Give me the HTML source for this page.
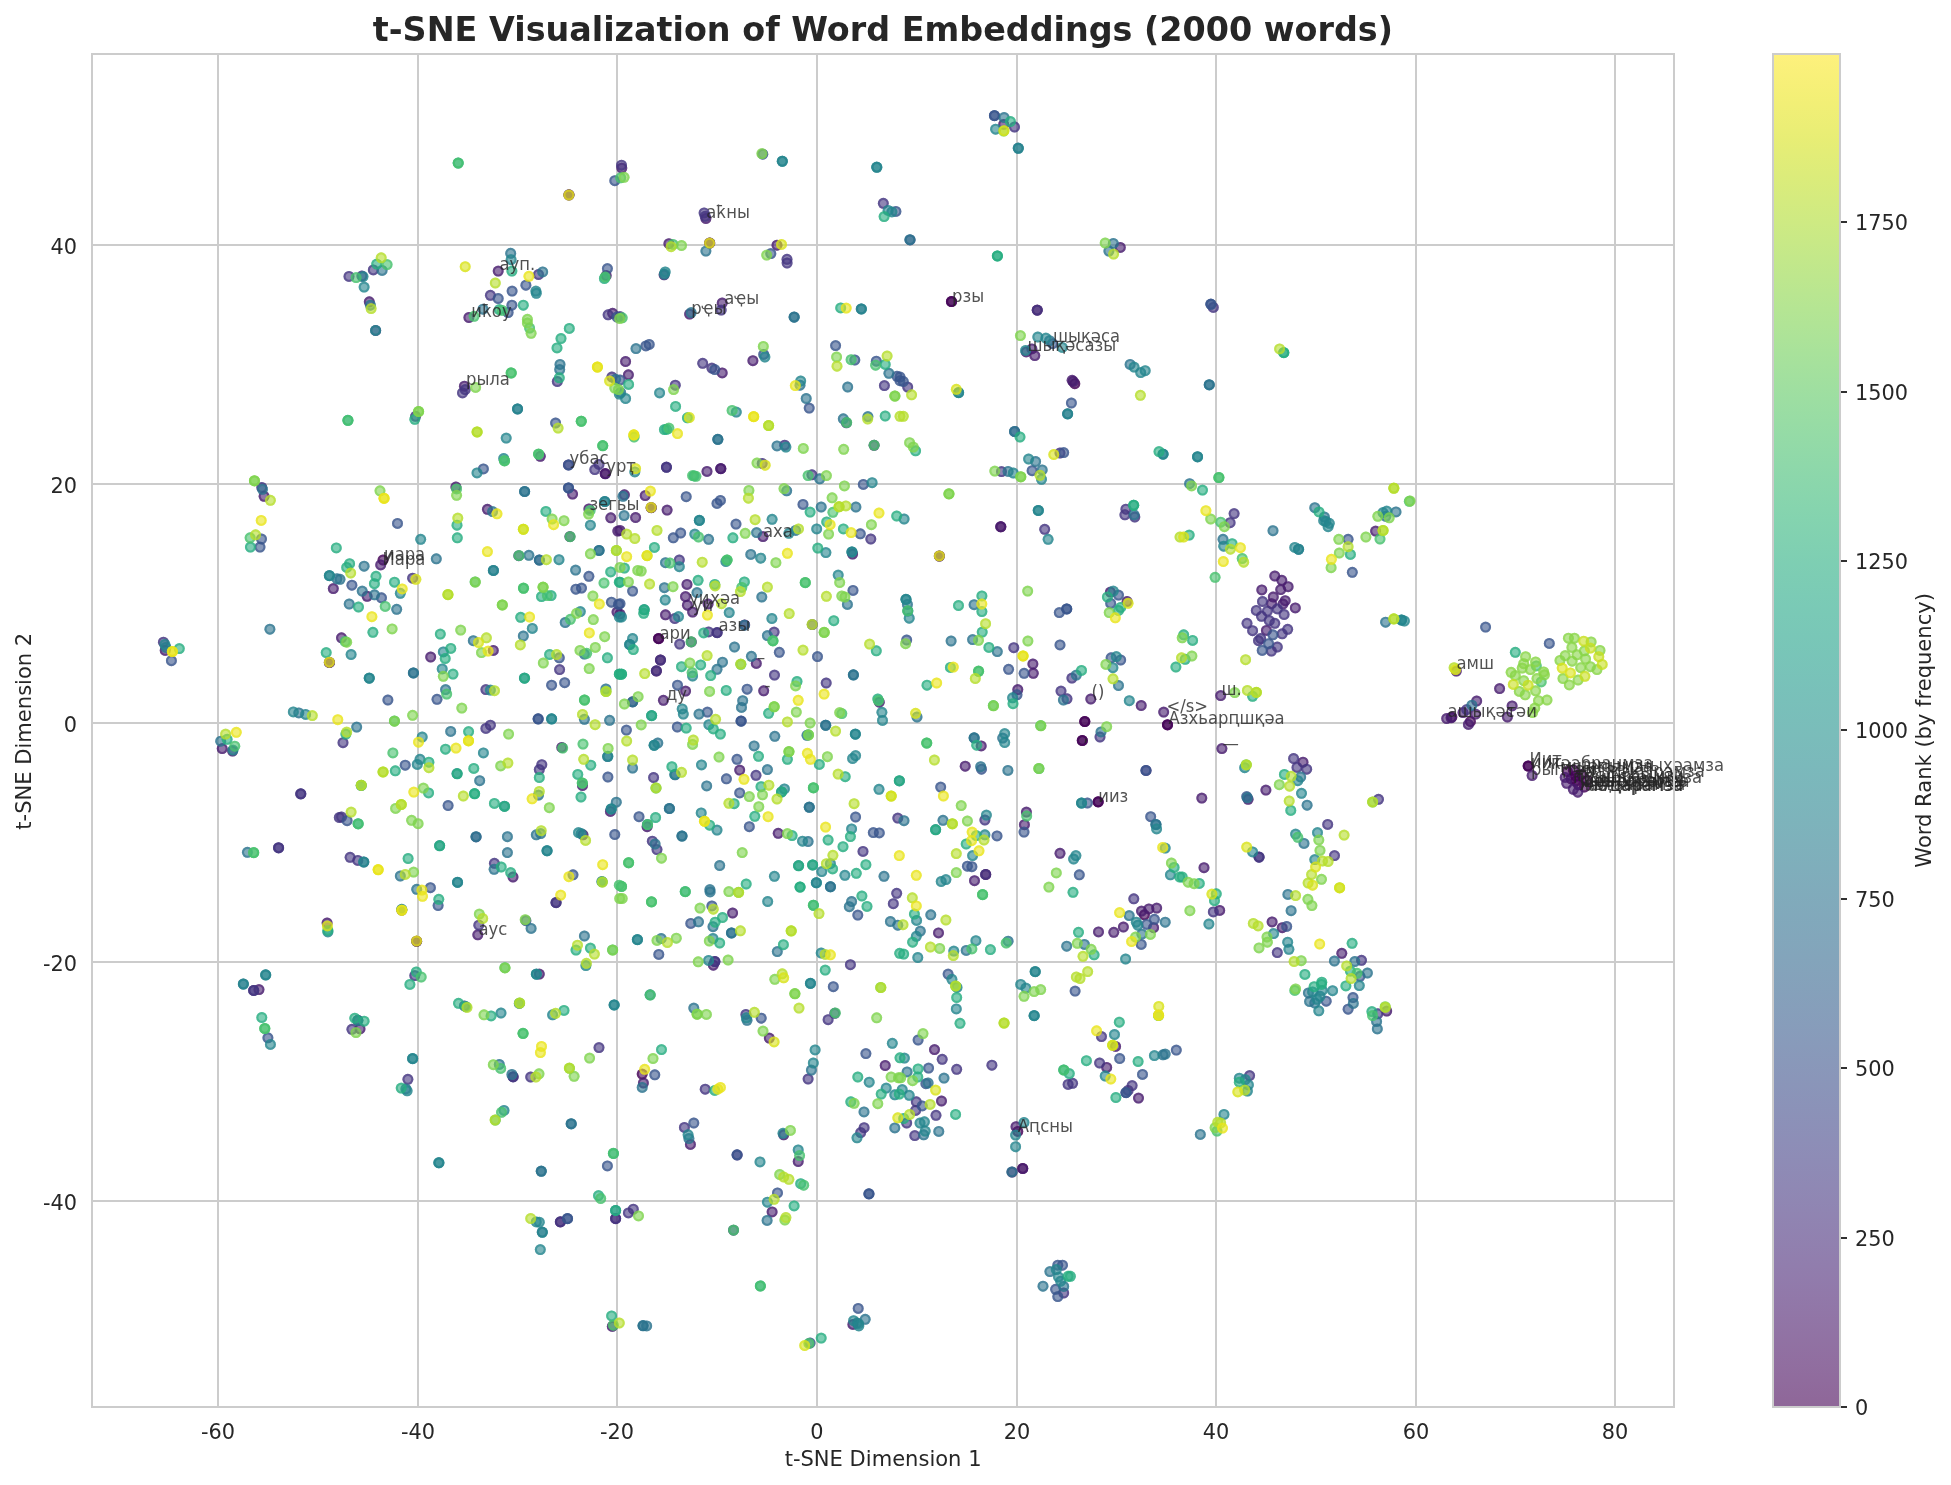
<!DOCTYPE html>
<html><head><meta charset="utf-8"><title>t-SNE Visualization of Word Embeddings</title>
<style>html,body{margin:0;padding:0;background:#fff}svg{display:block;will-change:transform}text{font-family:"DejaVu Sans","Liberation Sans",sans-serif;fill:#262626}</style></head><body>
<svg width="1951" height="1485" viewBox="0 0 1951 1485">
<defs><linearGradient id="vg" x1="0" y1="1" x2="0" y2="0"><stop offset="0.0000" stop-color="#440154"/><stop offset="0.0312" stop-color="#470d60"/><stop offset="0.0625" stop-color="#48186a"/><stop offset="0.0938" stop-color="#482374"/><stop offset="0.1250" stop-color="#472d7b"/><stop offset="0.1562" stop-color="#453781"/><stop offset="0.1875" stop-color="#424086"/><stop offset="0.2188" stop-color="#3e4989"/><stop offset="0.2500" stop-color="#3b528b"/><stop offset="0.2812" stop-color="#375b8d"/><stop offset="0.3125" stop-color="#33638d"/><stop offset="0.3438" stop-color="#2f6b8e"/><stop offset="0.3750" stop-color="#2c728e"/><stop offset="0.4062" stop-color="#297a8e"/><stop offset="0.4375" stop-color="#26828e"/><stop offset="0.4688" stop-color="#23898e"/><stop offset="0.5000" stop-color="#21918c"/><stop offset="0.5312" stop-color="#1f988b"/><stop offset="0.5625" stop-color="#1fa088"/><stop offset="0.5938" stop-color="#22a785"/><stop offset="0.6250" stop-color="#28ae80"/><stop offset="0.6562" stop-color="#32b67a"/><stop offset="0.6875" stop-color="#3fbc73"/><stop offset="0.7188" stop-color="#4ec36b"/><stop offset="0.7500" stop-color="#5ec962"/><stop offset="0.7812" stop-color="#70cf57"/><stop offset="0.8125" stop-color="#84d44b"/><stop offset="0.8438" stop-color="#98d83e"/><stop offset="0.8750" stop-color="#addc30"/><stop offset="0.9062" stop-color="#c2df23"/><stop offset="0.9375" stop-color="#d8e219"/><stop offset="0.9688" stop-color="#ece51b"/><stop offset="1.0000" stop-color="#fde725"/></linearGradient></defs>
<rect width="1951" height="1485" fill="#fff"/>
<g stroke="#cccccc" stroke-width="2" fill="none"><line x1="218.0" y1="54.0" x2="218.0" y2="1407.0"/><line x1="418.0" y1="54.0" x2="418.0" y2="1407.0"/><line x1="617.0" y1="54.0" x2="617.0" y2="1407.0"/><line x1="817.0" y1="54.0" x2="817.0" y2="1407.0"/><line x1="1017.0" y1="54.0" x2="1017.0" y2="1407.0"/><line x1="1216.0" y1="54.0" x2="1216.0" y2="1407.0"/><line x1="1416.0" y1="54.0" x2="1416.0" y2="1407.0"/><line x1="1615.0" y1="54.0" x2="1615.0" y2="1407.0"/><line x1="92.0" y1="1201.0" x2="1674.0" y2="1201.0"/><line x1="92.0" y1="962.0" x2="1674.0" y2="962.0"/><line x1="92.0" y1="723.0" x2="1674.0" y2="723.0"/><line x1="92.0" y1="484.0" x2="1674.0" y2="484.0"/><line x1="92.0" y1="245.0" x2="1674.0" y2="245.0"/></g>
<defs><g id="m"><circle r="5.5" fill="currentColor" fill-opacity=".6"/><circle r="4.42" fill="none" stroke="currentColor" stroke-width="2.1" stroke-opacity=".6"/></g></defs>
<g>
<use href="#m" x="605.2" y="473.6" color="#450457"/><use href="#m" x="383.0" y="560.0" color="#450457"/><use href="#m" x="658.5" y="638.5" color="#450457"/><use href="#m" x="658.7" y="638.7" color="#450457"/><use href="#m" x="660.4" y="660.0" color="#450457"/><use href="#m" x="656.4" y="671.0" color="#450457"/><use href="#m" x="642.2" y="1074.1" color="#450457"/><use href="#m" x="951.4" y="301.5" color="#450457"/><use href="#m" x="951.6" y="301.6" color="#450457"/><use href="#m" x="1037.2" y="310.1" color="#450457"/><use href="#m" x="1074.8" y="383.7" color="#450457"/><use href="#m" x="1000.9" y="526.8" color="#450457"/><use href="#m" x="1167.4" y="724.7" color="#450457"/><use href="#m" x="1167.6" y="724.9" color="#450457"/><use href="#m" x="1084.7" y="721.5" color="#450457"/><use href="#m" x="1084.9" y="721.6" color="#450457"/><use href="#m" x="1082.2" y="740.4" color="#450457"/><use href="#m" x="1082.4" y="740.6" color="#450457"/><use href="#m" x="1098.1" y="801.8" color="#450457"/><use href="#m" x="1098.2" y="801.9" color="#450457"/><use href="#m" x="985.8" y="874.5" color="#450457"/><use href="#m" x="1144.4" y="914.8" color="#450457"/><use href="#m" x="1017.8" y="1131.4" color="#450457"/><use href="#m" x="1022.7" y="1168.4" color="#450457"/><use href="#m" x="1451.9" y="717.0" color="#450457"/><use href="#m" x="1470.4" y="721.5" color="#450457"/><use href="#m" x="1528.1" y="766.0" color="#450457"/><use href="#m" x="1528.3" y="766.1" color="#450457"/><use href="#m" x="1567.4" y="771.5" color="#450457"/><use href="#m" x="1573.3" y="770.0" color="#450457"/><use href="#m" x="1575.6" y="775.9" color="#450457"/><use href="#m" x="1575.6" y="781.1" color="#450457"/><use href="#m" x="1584.4" y="787.0" color="#450457"/><use href="#m" x="1581.5" y="774.4" color="#450457"/><use href="#m" x="1587.4" y="780.4" color="#450457"/><use href="#m" x="1578.5" y="784.8" color="#450457"/><use href="#m" x="1571.1" y="778.9" color="#450457"/><use href="#m" x="264.1" y="496.3" color="#481c6e"/><use href="#m" x="333.3" y="588.6" color="#481c6e"/><use href="#m" x="165.2" y="650.4" color="#481c6e"/><use href="#m" x="329.3" y="662.4" color="#481c6e"/><use href="#m" x="329.5" y="662.5" color="#481c6e"/><use href="#m" x="222.2" y="748.6" color="#481c6e"/><use href="#m" x="232.6" y="751.1" color="#481c6e"/><use href="#m" x="327.1" y="923.0" color="#481c6e"/><use href="#m" x="259.0" y="989.6" color="#481c6e"/><use href="#m" x="369.3" y="301.8" color="#481c6e"/><use href="#m" x="568.9" y="194.8" color="#481c6e"/><use href="#m" x="569.0" y="195.0" color="#481c6e"/><use href="#m" x="498.2" y="271.1" color="#481c6e"/><use href="#m" x="468.9" y="317.5" color="#481c6e"/><use href="#m" x="606.2" y="275.6" color="#481c6e"/><use href="#m" x="612.6" y="313.3" color="#481c6e"/><use href="#m" x="464.4" y="386.2" color="#481c6e"/><use href="#m" x="540.3" y="456.3" color="#481c6e"/><use href="#m" x="605.3" y="473.8" color="#481c6e"/><use href="#m" x="455.9" y="487.0" color="#481c6e"/><use href="#m" x="572.6" y="494.1" color="#481c6e"/><use href="#m" x="588.9" y="508.9" color="#481c6e"/><use href="#m" x="487.4" y="509.3" color="#481c6e"/><use href="#m" x="610.8" y="517.8" color="#481c6e"/><use href="#m" x="617.8" y="531.1" color="#481c6e"/><use href="#m" x="569.9" y="536.6" color="#481c6e"/><use href="#m" x="380.7" y="564.9" color="#481c6e"/><use href="#m" x="367.1" y="596.3" color="#481c6e"/><use href="#m" x="617.0" y="612.1" color="#481c6e"/><use href="#m" x="341.5" y="637.8" color="#481c6e"/><use href="#m" x="493.3" y="650.4" color="#481c6e"/><use href="#m" x="430.7" y="657.0" color="#481c6e"/><use href="#m" x="561.8" y="747.4" color="#481c6e"/><use href="#m" x="582.5" y="785.5" color="#481c6e"/><use href="#m" x="610.4" y="811.4" color="#481c6e"/><use href="#m" x="583.0" y="834.8" color="#481c6e"/><use href="#m" x="513.0" y="877.0" color="#481c6e"/><use href="#m" x="401.8" y="910.1" color="#481c6e"/><use href="#m" x="477.8" y="934.8" color="#481c6e"/><use href="#m" x="416.6" y="941.2" color="#481c6e"/><use href="#m" x="416.7" y="941.3" color="#481c6e"/><use href="#m" x="539.3" y="974.1" color="#481c6e"/><use href="#m" x="357.8" y="1020.3" color="#481c6e"/><use href="#m" x="360.0" y="1028.9" color="#481c6e"/><use href="#m" x="615.6" y="1218.5" color="#481c6e"/><use href="#m" x="560.4" y="1221.9" color="#481c6e"/><use href="#m" x="612.3" y="1326.4" color="#481c6e"/><use href="#m" x="621.8" y="168.1" color="#481c6e"/><use href="#m" x="705.9" y="218.5" color="#481c6e"/><use href="#m" x="668.9" y="243.7" color="#481c6e"/><use href="#m" x="709.6" y="243.0" color="#481c6e"/><use href="#m" x="709.8" y="243.1" color="#481c6e"/><use href="#m" x="777.0" y="245.2" color="#481c6e"/><use href="#m" x="664.1" y="274.8" color="#481c6e"/><use href="#m" x="722.2" y="303.0" color="#481c6e"/><use href="#m" x="689.6" y="314.1" color="#481c6e"/><use href="#m" x="752.9" y="360.7" color="#481c6e"/><use href="#m" x="625.6" y="361.5" color="#481c6e"/><use href="#m" x="628.4" y="374.8" color="#481c6e"/><use href="#m" x="722.2" y="372.9" color="#481c6e"/><use href="#m" x="874.1" y="445.3" color="#481c6e"/><use href="#m" x="707.0" y="471.4" color="#481c6e"/><use href="#m" x="720.7" y="468.6" color="#481c6e"/><use href="#m" x="720.9" y="468.7" color="#481c6e"/><use href="#m" x="624.4" y="494.8" color="#481c6e"/><use href="#m" x="645.2" y="495.6" color="#481c6e"/><use href="#m" x="651.1" y="507.6" color="#481c6e"/><use href="#m" x="651.3" y="507.7" color="#481c6e"/><use href="#m" x="667.1" y="510.1" color="#481c6e"/><use href="#m" x="635.6" y="517.5" color="#481c6e"/><use href="#m" x="620.0" y="530.4" color="#481c6e"/><use href="#m" x="763.0" y="536.6" color="#481c6e"/><use href="#m" x="852.6" y="554.1" color="#481c6e"/><use href="#m" x="687.0" y="584.4" color="#481c6e"/><use href="#m" x="685.5" y="596.6" color="#481c6e"/><use href="#m" x="708.1" y="604.0" color="#481c6e"/><use href="#m" x="687.4" y="605.2" color="#481c6e"/><use href="#m" x="692.6" y="612.1" color="#481c6e"/><use href="#m" x="665.5" y="614.8" color="#481c6e"/><use href="#m" x="620.0" y="614.1" color="#481c6e"/><use href="#m" x="744.7" y="624.9" color="#481c6e"/><use href="#m" x="691.3" y="641.9" color="#481c6e"/><use href="#m" x="756.3" y="663.4" color="#481c6e"/><use href="#m" x="685.6" y="691.1" color="#481c6e"/><use href="#m" x="763.7" y="690.8" color="#481c6e"/><use href="#m" x="663.4" y="700.3" color="#481c6e"/><use href="#m" x="879.3" y="702.2" color="#481c6e"/><use href="#m" x="739.7" y="770.1" color="#481c6e"/><use href="#m" x="647.1" y="826.7" color="#481c6e"/><use href="#m" x="778.2" y="833.3" color="#481c6e"/><use href="#m" x="732.6" y="913.0" color="#481c6e"/><use href="#m" x="713.3" y="965.2" color="#481c6e"/><use href="#m" x="769.3" y="1038.1" color="#481c6e"/><use href="#m" x="885.2" y="1065.5" color="#481c6e"/><use href="#m" x="643.4" y="1083.0" color="#481c6e"/><use href="#m" x="690.4" y="1144.4" color="#481c6e"/><use href="#m" x="783.7" y="1134.8" color="#481c6e"/><use href="#m" x="798.2" y="1161.5" color="#481c6e"/><use href="#m" x="772.1" y="1211.9" color="#481c6e"/><use href="#m" x="852.9" y="1324.4" color="#481c6e"/><use href="#m" x="1003.7" y="124.4" color="#481c6e"/><use href="#m" x="1120.3" y="247.4" color="#481c6e"/><use href="#m" x="1026.2" y="351.9" color="#481c6e"/><use href="#m" x="1031.9" y="348.9" color="#481c6e"/><use href="#m" x="1034.8" y="355.6" color="#481c6e"/><use href="#m" x="1072.1" y="380.3" color="#481c6e"/><use href="#m" x="1073.3" y="381.5" color="#481c6e"/><use href="#m" x="1000.7" y="526.7" color="#481c6e"/><use href="#m" x="939.3" y="556.0" color="#481c6e"/><use href="#m" x="939.4" y="556.1" color="#481c6e"/><use href="#m" x="1110.4" y="592.1" color="#481c6e"/><use href="#m" x="1127.1" y="601.5" color="#481c6e"/><use href="#m" x="1032.9" y="664.0" color="#481c6e"/><use href="#m" x="1033.3" y="673.3" color="#481c6e"/><use href="#m" x="1017.8" y="689.6" color="#481c6e"/><use href="#m" x="1090.8" y="699.0" color="#481c6e"/><use href="#m" x="1141.2" y="705.5" color="#481c6e"/><use href="#m" x="1163.7" y="712.1" color="#481c6e"/><use href="#m" x="981.2" y="745.9" color="#481c6e"/><use href="#m" x="965.2" y="766.2" color="#481c6e"/><use href="#m" x="1026.4" y="812.1" color="#481c6e"/><use href="#m" x="1024.4" y="824.7" color="#481c6e"/><use href="#m" x="1060.0" y="853.3" color="#481c6e"/><use href="#m" x="974.5" y="880.7" color="#481c6e"/><use href="#m" x="1141.5" y="911.1" color="#481c6e"/><use href="#m" x="1148.9" y="908.9" color="#481c6e"/><use href="#m" x="1156.7" y="908.1" color="#481c6e"/><use href="#m" x="1153.6" y="927.7" color="#481c6e"/><use href="#m" x="1123.4" y="927.0" color="#481c6e"/><use href="#m" x="1113.8" y="932.3" color="#481c6e"/><use href="#m" x="1098.5" y="931.9" color="#481c6e"/><use href="#m" x="938.5" y="932.9" color="#481c6e"/><use href="#m" x="1115.6" y="1046.4" color="#481c6e"/><use href="#m" x="934.5" y="1049.6" color="#481c6e"/><use href="#m" x="941.5" y="1101.0" color="#481c6e"/><use href="#m" x="1106.7" y="1067.4" color="#481c6e"/><use href="#m" x="1138.5" y="1098.1" color="#481c6e"/><use href="#m" x="1016.0" y="1126.7" color="#481c6e"/><use href="#m" x="1012.1" y="1172.1" color="#481c6e"/><use href="#m" x="1022.8" y="1168.6" color="#481c6e"/><use href="#m" x="1375.6" y="531.1" color="#481c6e"/><use href="#m" x="1274.8" y="576.0" color="#481c6e"/><use href="#m" x="1281.8" y="580.3" color="#481c6e"/><use href="#m" x="1288.1" y="586.7" color="#481c6e"/><use href="#m" x="1280.7" y="589.6" color="#481c6e"/><use href="#m" x="1261.8" y="589.9" color="#481c6e"/><use href="#m" x="1273.3" y="597.0" color="#481c6e"/><use href="#m" x="1285.2" y="600.7" color="#481c6e"/><use href="#m" x="1283.0" y="604.0" color="#481c6e"/><use href="#m" x="1271.6" y="603.7" color="#481c6e"/><use href="#m" x="1295.3" y="607.9" color="#481c6e"/><use href="#m" x="1266.4" y="630.4" color="#481c6e"/><use href="#m" x="1456.3" y="671.1" color="#481c6e"/><use href="#m" x="1220.7" y="695.6" color="#481c6e"/><use href="#m" x="1446.7" y="718.5" color="#481c6e"/><use href="#m" x="1451.1" y="717.8" color="#481c6e"/><use href="#m" x="1221.9" y="748.6" color="#481c6e"/><use href="#m" x="1303.0" y="762.2" color="#481c6e"/><use href="#m" x="1265.9" y="790.1" color="#481c6e"/><use href="#m" x="1201.8" y="798.1" color="#481c6e"/><use href="#m" x="1248.1" y="799.3" color="#481c6e"/><use href="#m" x="1204.0" y="867.7" color="#481c6e"/><use href="#m" x="1219.7" y="910.4" color="#481c6e"/><use href="#m" x="1272.1" y="921.9" color="#481c6e"/><use href="#m" x="1282.2" y="927.7" color="#481c6e"/><use href="#m" x="1341.8" y="953.3" color="#481c6e"/><use href="#m" x="1386.7" y="1011.1" color="#481c6e"/><use href="#m" x="1499.6" y="688.6" color="#481c6e"/><use href="#m" x="1476.7" y="701.0" color="#481c6e"/><use href="#m" x="1512.1" y="705.9" color="#481c6e"/><use href="#m" x="1463.0" y="712.6" color="#481c6e"/><use href="#m" x="1475.6" y="714.1" color="#481c6e"/><use href="#m" x="1507.4" y="717.0" color="#481c6e"/><use href="#m" x="1468.4" y="724.4" color="#481c6e"/><use href="#m" x="1532.1" y="775.5" color="#481c6e"/><use href="#m" x="1565.2" y="777.4" color="#481c6e"/><use href="#m" x="1566.7" y="783.3" color="#481c6e"/><use href="#m" x="1573.3" y="789.3" color="#481c6e"/><use href="#m" x="1577.8" y="792.2" color="#481c6e"/><use href="#m" x="261.8" y="487.4" color="#453581"/><use href="#m" x="163.4" y="642.2" color="#453581"/><use href="#m" x="300.7" y="793.8" color="#453581"/><use href="#m" x="300.9" y="793.9" color="#453581"/><use href="#m" x="339.3" y="817.5" color="#453581"/><use href="#m" x="278.5" y="847.7" color="#453581"/><use href="#m" x="278.7" y="847.9" color="#453581"/><use href="#m" x="253.6" y="990.4" color="#453581"/><use href="#m" x="253.8" y="990.5" color="#453581"/><use href="#m" x="349.0" y="276.4" color="#453581"/><use href="#m" x="361.9" y="276.0" color="#453581"/><use href="#m" x="373.3" y="269.9" color="#453581"/><use href="#m" x="538.5" y="274.5" color="#453581"/><use href="#m" x="490.4" y="295.3" color="#453581"/><use href="#m" x="608.1" y="314.8" color="#453581"/><use href="#m" x="375.7" y="330.5" color="#453581"/><use href="#m" x="557.3" y="381.5" color="#453581"/><use href="#m" x="611.9" y="377.0" color="#453581"/><use href="#m" x="465.2" y="389.6" color="#453581"/><use href="#m" x="462.5" y="392.9" color="#453581"/><use href="#m" x="415.6" y="416.3" color="#453581"/><use href="#m" x="568.4" y="464.9" color="#453581"/><use href="#m" x="599.0" y="464.4" color="#453581"/><use href="#m" x="594.8" y="469.6" color="#453581"/><use href="#m" x="518.8" y="555.7" color="#453581"/><use href="#m" x="412.6" y="578.2" color="#453581"/><use href="#m" x="559.6" y="669.6" color="#453581"/><use href="#m" x="485.9" y="689.6" color="#453581"/><use href="#m" x="343.0" y="742.7" color="#453581"/><use href="#m" x="490.4" y="725.2" color="#453581"/><use href="#m" x="485.9" y="728.4" color="#453581"/><use href="#m" x="541.8" y="764.7" color="#453581"/><use href="#m" x="539.3" y="769.6" color="#453581"/><use href="#m" x="341.5" y="817.0" color="#453581"/><use href="#m" x="350.1" y="857.3" color="#453581"/><use href="#m" x="357.8" y="860.4" color="#453581"/><use href="#m" x="494.4" y="863.3" color="#453581"/><use href="#m" x="556.0" y="902.5" color="#453581"/><use href="#m" x="556.1" y="902.7" color="#453581"/><use href="#m" x="478.8" y="925.2" color="#453581"/><use href="#m" x="414.8" y="975.6" color="#453581"/><use href="#m" x="351.9" y="1029.3" color="#453581"/><use href="#m" x="599.0" y="1047.6" color="#453581"/><use href="#m" x="513.0" y="1076.7" color="#453581"/><use href="#m" x="513.2" y="1076.9" color="#453581"/><use href="#m" x="530.7" y="1077.0" color="#453581"/><use href="#m" x="407.9" y="1079.3" color="#453581"/><use href="#m" x="615.7" y="1218.7" color="#453581"/><use href="#m" x="560.3" y="1221.8" color="#453581"/><use href="#m" x="621.5" y="165.2" color="#453581"/><use href="#m" x="883.3" y="203.3" color="#453581"/><use href="#m" x="704.1" y="212.9" color="#453581"/><use href="#m" x="705.2" y="216.3" color="#453581"/><use href="#m" x="787.0" y="259.3" color="#453581"/><use href="#m" x="787.1" y="263.0" color="#453581"/><use href="#m" x="721.2" y="310.1" color="#453581"/><use href="#m" x="620.0" y="316.6" color="#453581"/><use href="#m" x="702.7" y="363.3" color="#453581"/><use href="#m" x="711.9" y="368.1" color="#453581"/><use href="#m" x="675.3" y="385.2" color="#453581"/><use href="#m" x="884.4" y="385.6" color="#453581"/><use href="#m" x="846.4" y="422.8" color="#453581"/><use href="#m" x="784.7" y="445.2" color="#453581"/><use href="#m" x="762.2" y="463.4" color="#453581"/><use href="#m" x="666.4" y="467.1" color="#453581"/><use href="#m" x="666.5" y="467.3" color="#453581"/><use href="#m" x="811.9" y="474.8" color="#453581"/><use href="#m" x="870.8" y="539.0" color="#453581"/><use href="#m" x="679.3" y="560.0" color="#453581"/><use href="#m" x="674.8" y="618.5" color="#453581"/><use href="#m" x="812.3" y="624.6" color="#453581"/><use href="#m" x="708.6" y="631.9" color="#453581"/><use href="#m" x="717.0" y="632.6" color="#453581"/><use href="#m" x="717.2" y="632.7" color="#453581"/><use href="#m" x="774.1" y="632.1" color="#453581"/><use href="#m" x="679.7" y="644.1" color="#453581"/><use href="#m" x="660.6" y="660.1" color="#453581"/><use href="#m" x="656.3" y="670.8" color="#453581"/><use href="#m" x="774.5" y="675.1" color="#453581"/><use href="#m" x="826.2" y="683.0" color="#453581"/><use href="#m" x="632.6" y="701.8" color="#453581"/><use href="#m" x="653.6" y="777.5" color="#453581"/><use href="#m" x="756.0" y="775.3" color="#453581"/><use href="#m" x="897.8" y="818.1" color="#453581"/><use href="#m" x="652.3" y="841.2" color="#453581"/><use href="#m" x="657.0" y="849.6" color="#453581"/><use href="#m" x="863.0" y="851.4" color="#453581"/><use href="#m" x="896.7" y="893.3" color="#453581"/><use href="#m" x="893.3" y="903.7" color="#453581"/><use href="#m" x="714.8" y="961.5" color="#453581"/><use href="#m" x="715.0" y="961.6" color="#453581"/><use href="#m" x="850.4" y="964.7" color="#453581"/><use href="#m" x="745.9" y="1014.4" color="#453581"/><use href="#m" x="828.1" y="1019.7" color="#453581"/><use href="#m" x="834.8" y="1013.3" color="#453581"/><use href="#m" x="808.1" y="1079.0" color="#453581"/><use href="#m" x="705.2" y="1089.2" color="#453581"/><use href="#m" x="864.1" y="1127.7" color="#453581"/><use href="#m" x="860.7" y="1132.6" color="#453581"/><use href="#m" x="684.4" y="1127.4" color="#453581"/><use href="#m" x="737.2" y="1155.0" color="#453581"/><use href="#m" x="633.3" y="1209.2" color="#453581"/><use href="#m" x="628.4" y="1212.9" color="#453581"/><use href="#m" x="733.5" y="1230.2" color="#453581"/><use href="#m" x="1014.5" y="127.0" color="#453581"/><use href="#m" x="1037.3" y="310.2" color="#453581"/><use href="#m" x="907.7" y="387.1" color="#453581"/><use href="#m" x="1060.0" y="453.0" color="#453581"/><use href="#m" x="1001.5" y="471.6" color="#453581"/><use href="#m" x="1125.9" y="509.2" color="#453581"/><use href="#m" x="1124.9" y="514.8" color="#453581"/><use href="#m" x="1134.8" y="517.0" color="#453581"/><use href="#m" x="1044.7" y="529.3" color="#453581"/><use href="#m" x="1013.8" y="647.7" color="#453581"/><use href="#m" x="1071.9" y="678.1" color="#453581"/><use href="#m" x="1061.0" y="691.1" color="#453581"/><use href="#m" x="1067.0" y="698.8" color="#453581"/><use href="#m" x="1100.0" y="737.0" color="#453581"/><use href="#m" x="1146.1" y="770.5" color="#453581"/><use href="#m" x="984.9" y="820.0" color="#453581"/><use href="#m" x="985.6" y="874.4" color="#453581"/><use href="#m" x="1133.8" y="898.8" color="#453581"/><use href="#m" x="1101.5" y="1036.6" color="#453581"/><use href="#m" x="942.2" y="1059.3" color="#453581"/><use href="#m" x="991.9" y="1065.2" color="#453581"/><use href="#m" x="956.7" y="1069.3" color="#453581"/><use href="#m" x="916.3" y="1101.8" color="#453581"/><use href="#m" x="915.6" y="1110.4" color="#453581"/><use href="#m" x="936.0" y="1115.3" color="#453581"/><use href="#m" x="906.7" y="1123.0" color="#453581"/><use href="#m" x="914.8" y="1135.6" color="#453581"/><use href="#m" x="1099.6" y="1063.0" color="#453581"/><use href="#m" x="1068.1" y="1084.4" color="#453581"/><use href="#m" x="1072.6" y="1083.3" color="#453581"/><use href="#m" x="1132.1" y="1085.6" color="#453581"/><use href="#m" x="1128.1" y="1090.4" color="#453581"/><use href="#m" x="1063.7" y="1293.0" color="#453581"/><use href="#m" x="1213.3" y="307.4" color="#453581"/><use href="#m" x="1234.1" y="513.6" color="#453581"/><use href="#m" x="1230.1" y="522.7" color="#453581"/><use href="#m" x="1262.5" y="601.5" color="#453581"/><use href="#m" x="1277.3" y="608.9" color="#453581"/><use href="#m" x="1256.3" y="610.4" color="#453581"/><use href="#m" x="1267.4" y="611.1" color="#453581"/><use href="#m" x="1284.1" y="614.5" color="#453581"/><use href="#m" x="1261.5" y="616.3" color="#453581"/><use href="#m" x="1269.3" y="620.7" color="#453581"/><use href="#m" x="1274.8" y="623.3" color="#453581"/><use href="#m" x="1247.0" y="623.3" color="#453581"/><use href="#m" x="1252.6" y="630.7" color="#453581"/><use href="#m" x="1287.7" y="629.3" color="#453581"/><use href="#m" x="1282.2" y="633.8" color="#453581"/><use href="#m" x="1260.7" y="638.5" color="#453581"/><use href="#m" x="1258.5" y="640.7" color="#453581"/><use href="#m" x="1277.3" y="647.0" color="#453581"/><use href="#m" x="1271.4" y="651.1" color="#453581"/><use href="#m" x="1293.6" y="758.5" color="#453581"/><use href="#m" x="1297.0" y="767.4" color="#453581"/><use href="#m" x="1306.7" y="769.2" color="#453581"/><use href="#m" x="1378.5" y="799.3" color="#453581"/><use href="#m" x="1327.7" y="824.4" color="#453581"/><use href="#m" x="1259.0" y="857.0" color="#453581"/><use href="#m" x="1259.1" y="857.2" color="#453581"/><use href="#m" x="1334.5" y="855.6" color="#453581"/><use href="#m" x="1213.3" y="911.9" color="#453581"/><use href="#m" x="1277.3" y="952.6" color="#453581"/><use href="#m" x="1361.5" y="960.3" color="#453581"/><use href="#m" x="1377.8" y="1013.8" color="#453581"/><use href="#m" x="1249.6" y="1075.6" color="#453581"/><use href="#m" x="1466.7" y="709.6" color="#453581"/><use href="#m" x="261.5" y="539.0" color="#39558c"/><use href="#m" x="260.0" y="547.1" color="#39558c"/><use href="#m" x="171.4" y="660.7" color="#39558c"/><use href="#m" x="267.9" y="1037.8" color="#39558c"/><use href="#m" x="614.8" y="180.7" color="#39558c"/><use href="#m" x="525.9" y="285.2" color="#39558c"/><use href="#m" x="512.1" y="291.1" color="#39558c"/><use href="#m" x="498.2" y="298.5" color="#39558c"/><use href="#m" x="511.9" y="305.2" color="#39558c"/><use href="#m" x="508.1" y="312.6" color="#39558c"/><use href="#m" x="607.4" y="268.6" color="#39558c"/><use href="#m" x="617.0" y="317.0" color="#39558c"/><use href="#m" x="555.6" y="423.0" color="#39558c"/><use href="#m" x="483.4" y="468.9" color="#39558c"/><use href="#m" x="568.6" y="465.0" color="#39558c"/><use href="#m" x="568.4" y="487.9" color="#39558c"/><use href="#m" x="568.6" y="488.0" color="#39558c"/><use href="#m" x="397.5" y="523.4" color="#39558c"/><use href="#m" x="539.3" y="560.0" color="#39558c"/><use href="#m" x="588.9" y="576.3" color="#39558c"/><use href="#m" x="351.9" y="585.2" color="#39558c"/><use href="#m" x="381.5" y="597.8" color="#39558c"/><use href="#m" x="575.9" y="589.2" color="#39558c"/><use href="#m" x="581.5" y="588.1" color="#39558c"/><use href="#m" x="611.4" y="602.2" color="#39558c"/><use href="#m" x="618.5" y="604.4" color="#39558c"/><use href="#m" x="559.3" y="657.8" color="#39558c"/><use href="#m" x="551.6" y="685.2" color="#39558c"/><use href="#m" x="564.7" y="682.7" color="#39558c"/><use href="#m" x="437.0" y="699.3" color="#39558c"/><use href="#m" x="387.9" y="700.0" color="#39558c"/><use href="#m" x="538.1" y="718.8" color="#39558c"/><use href="#m" x="538.2" y="719.0" color="#39558c"/><use href="#m" x="405.2" y="765.2" color="#39558c"/><use href="#m" x="607.9" y="777.0" color="#39558c"/><use href="#m" x="448.1" y="805.5" color="#39558c"/><use href="#m" x="347.1" y="820.7" color="#39558c"/><use href="#m" x="476.1" y="836.9" color="#39558c"/><use href="#m" x="614.8" y="834.5" color="#39558c"/><use href="#m" x="573.0" y="874.8" color="#39558c"/><use href="#m" x="430.4" y="887.7" color="#39558c"/><use href="#m" x="438.1" y="905.5" color="#39558c"/><use href="#m" x="525.9" y="920.7" color="#39558c"/><use href="#m" x="464.4" y="1005.9" color="#39558c"/><use href="#m" x="607.4" y="1165.9" color="#39558c"/><use href="#m" x="567.4" y="1218.5" color="#39558c"/><use href="#m" x="567.6" y="1218.7" color="#39558c"/><use href="#m" x="762.8" y="154.2" color="#39558c"/><use href="#m" x="895.9" y="211.4" color="#39558c"/><use href="#m" x="770.8" y="253.6" color="#39558c"/><use href="#m" x="645.9" y="345.9" color="#39558c"/><use href="#m" x="649.2" y="344.4" color="#39558c"/><use href="#m" x="763.7" y="354.4" color="#39558c"/><use href="#m" x="714.8" y="369.6" color="#39558c"/><use href="#m" x="835.6" y="345.6" color="#39558c"/><use href="#m" x="854.8" y="360.0" color="#39558c"/><use href="#m" x="876.3" y="361.2" color="#39558c"/><use href="#m" x="897.0" y="376.3" color="#39558c"/><use href="#m" x="900.0" y="380.7" color="#39558c"/><use href="#m" x="620.0" y="380.0" color="#39558c"/><use href="#m" x="809.2" y="408.1" color="#39558c"/><use href="#m" x="863.3" y="484.4" color="#39558c"/><use href="#m" x="686.2" y="496.7" color="#39558c"/><use href="#m" x="720.4" y="500.4" color="#39558c"/><use href="#m" x="717.0" y="503.4" color="#39558c"/><use href="#m" x="803.0" y="504.4" color="#39558c"/><use href="#m" x="736.0" y="524.1" color="#39558c"/><use href="#m" x="860.3" y="533.8" color="#39558c"/><use href="#m" x="680.7" y="533.0" color="#39558c"/><use href="#m" x="673.3" y="537.8" color="#39558c"/><use href="#m" x="632.6" y="591.1" color="#39558c"/><use href="#m" x="853.0" y="590.4" color="#39558c"/><use href="#m" x="620.0" y="603.7" color="#39558c"/><use href="#m" x="779.3" y="652.3" color="#39558c"/><use href="#m" x="817.5" y="656.6" color="#39558c"/><use href="#m" x="677.5" y="685.2" color="#39558c"/><use href="#m" x="747.1" y="689.2" color="#39558c"/><use href="#m" x="707.4" y="712.1" color="#39558c"/><use href="#m" x="741.0" y="721.0" color="#39558c"/><use href="#m" x="741.2" y="721.2" color="#39558c"/><use href="#m" x="626.4" y="730.1" color="#39558c"/><use href="#m" x="677.3" y="727.0" color="#39558c"/><use href="#m" x="737.0" y="759.3" color="#39558c"/><use href="#m" x="675.1" y="774.8" color="#39558c"/><use href="#m" x="726.4" y="778.8" color="#39558c"/><use href="#m" x="739.7" y="792.9" color="#39558c"/><use href="#m" x="855.6" y="817.0" color="#39558c"/><use href="#m" x="639.0" y="816.7" color="#39558c"/><use href="#m" x="749.3" y="826.7" color="#39558c"/><use href="#m" x="873.3" y="832.6" color="#39558c"/><use href="#m" x="879.3" y="832.9" color="#39558c"/><use href="#m" x="857.8" y="915.1" color="#39558c"/><use href="#m" x="711.9" y="905.9" color="#39558c"/><use href="#m" x="690.8" y="923.4" color="#39558c"/><use href="#m" x="658.8" y="954.4" color="#39558c"/><use href="#m" x="833.3" y="986.7" color="#39558c"/><use href="#m" x="761.2" y="1018.2" color="#39558c"/><use href="#m" x="865.9" y="1053.6" color="#39558c"/><use href="#m" x="654.8" y="1074.8" color="#39558c"/><use href="#m" x="693.8" y="1123.0" color="#39558c"/><use href="#m" x="737.0" y="1154.8" color="#39558c"/><use href="#m" x="777.5" y="1192.9" color="#39558c"/><use href="#m" x="868.9" y="1193.8" color="#39558c"/><use href="#m" x="869.0" y="1193.9" color="#39558c"/><use href="#m" x="858.2" y="1308.4" color="#39558c"/><use href="#m" x="810.1" y="1343.0" color="#39558c"/><use href="#m" x="994.4" y="115.6" color="#39558c"/><use href="#m" x="994.5" y="115.7" color="#39558c"/><use href="#m" x="910.1" y="239.9" color="#39558c"/><use href="#m" x="1052.6" y="343.7" color="#39558c"/><use href="#m" x="900.0" y="377.0" color="#39558c"/><use href="#m" x="903.3" y="381.5" color="#39558c"/><use href="#m" x="1071.4" y="403.0" color="#39558c"/><use href="#m" x="1014.7" y="431.6" color="#39558c"/><use href="#m" x="1063.7" y="452.6" color="#39558c"/><use href="#m" x="1032.1" y="470.7" color="#39558c"/><use href="#m" x="1118.5" y="595.1" color="#39558c"/><use href="#m" x="1110.7" y="603.4" color="#39558c"/><use href="#m" x="1066.7" y="608.9" color="#39558c"/><use href="#m" x="1066.8" y="609.0" color="#39558c"/><use href="#m" x="1059.3" y="612.6" color="#39558c"/><use href="#m" x="906.7" y="640.0" color="#39558c"/><use href="#m" x="1060.0" y="644.9" color="#39558c"/><use href="#m" x="1024.1" y="673.3" color="#39558c"/><use href="#m" x="1008.6" y="669.3" color="#39558c"/><use href="#m" x="1111.1" y="657.8" color="#39558c"/><use href="#m" x="1120.7" y="660.0" color="#39558c"/><use href="#m" x="1017.0" y="694.8" color="#39558c"/><use href="#m" x="981.5" y="769.2" color="#39558c"/><use href="#m" x="1145.9" y="770.4" color="#39558c"/><use href="#m" x="940.7" y="787.1" color="#39558c"/><use href="#m" x="1087.4" y="803.0" color="#39558c"/><use href="#m" x="1024.0" y="832.1" color="#39558c"/><use href="#m" x="997.0" y="835.9" color="#39558c"/><use href="#m" x="1150.7" y="816.7" color="#39558c"/><use href="#m" x="967.4" y="866.2" color="#39558c"/><use href="#m" x="971.9" y="866.7" color="#39558c"/><use href="#m" x="1079.3" y="874.8" color="#39558c"/><use href="#m" x="1154.4" y="919.3" color="#39558c"/><use href="#m" x="1146.7" y="924.4" color="#39558c"/><use href="#m" x="1141.2" y="944.4" color="#39558c"/><use href="#m" x="948.1" y="974.1" color="#39558c"/><use href="#m" x="1075.1" y="991.1" color="#39558c"/><use href="#m" x="918.1" y="1040.0" color="#39558c"/><use href="#m" x="928.6" y="1068.1" color="#39558c"/><use href="#m" x="925.9" y="1083.7" color="#39558c"/><use href="#m" x="922.2" y="1105.9" color="#39558c"/><use href="#m" x="1176.3" y="1050.1" color="#39558c"/><use href="#m" x="1119.7" y="1058.5" color="#39558c"/><use href="#m" x="1142.5" y="1074.4" color="#39558c"/><use href="#m" x="1125.9" y="1092.6" color="#39558c"/><use href="#m" x="1126.1" y="1092.7" color="#39558c"/><use href="#m" x="1057.8" y="1265.2" color="#39558c"/><use href="#m" x="1062.5" y="1265.2" color="#39558c"/><use href="#m" x="1055.6" y="1289.3" color="#39558c"/><use href="#m" x="1057.8" y="1296.6" color="#39558c"/><use href="#m" x="1210.8" y="304.1" color="#39558c"/><use href="#m" x="1211.0" y="304.3" color="#39558c"/><use href="#m" x="1348.1" y="539.3" color="#39558c"/><use href="#m" x="1352.3" y="572.3" color="#39558c"/><use href="#m" x="1272.9" y="634.8" color="#39558c"/><use href="#m" x="1268.6" y="643.7" color="#39558c"/><use href="#m" x="1262.2" y="650.4" color="#39558c"/><use href="#m" x="1246.7" y="796.6" color="#39558c"/><use href="#m" x="1286.7" y="926.4" color="#39558c"/><use href="#m" x="1360.0" y="976.3" color="#39558c"/><use href="#m" x="1326.2" y="1001.2" color="#39558c"/><use href="#m" x="1353.0" y="997.5" color="#39558c"/><use href="#m" x="1348.1" y="1009.2" color="#39558c"/><use href="#m" x="1485.6" y="627.1" color="#39558c"/><use href="#m" x="1549.3" y="643.4" color="#39558c"/><use href="#m" x="262.5" y="489.3" color="#2c738e"/><use href="#m" x="337.0" y="578.8" color="#2c738e"/><use href="#m" x="165.9" y="647.4" color="#2c738e"/><use href="#m" x="269.9" y="629.2" color="#2c738e"/><use href="#m" x="298.8" y="712.9" color="#2c738e"/><use href="#m" x="220.7" y="741.2" color="#2c738e"/><use href="#m" x="247.4" y="852.3" color="#2c738e"/><use href="#m" x="243.4" y="984.1" color="#2c738e"/><use href="#m" x="382.1" y="270.4" color="#2c738e"/><use href="#m" x="370.4" y="305.2" color="#2c738e"/><use href="#m" x="510.7" y="253.3" color="#2c738e"/><use href="#m" x="542.7" y="271.9" color="#2c738e"/><use href="#m" x="483.0" y="309.2" color="#2c738e"/><use href="#m" x="560.0" y="364.4" color="#2c738e"/><use href="#m" x="559.7" y="369.6" color="#2c738e"/><use href="#m" x="615.6" y="379.3" color="#2c738e"/><use href="#m" x="517.6" y="409.0" color="#2c738e"/><use href="#m" x="524.6" y="491.4" color="#2c738e"/><use href="#m" x="524.7" y="491.6" color="#2c738e"/><use href="#m" x="604.9" y="501.6" color="#2c738e"/><use href="#m" x="492.6" y="511.6" color="#2c738e"/><use href="#m" x="528.9" y="555.3" color="#2c738e"/><use href="#m" x="539.4" y="560.1" color="#2c738e"/><use href="#m" x="436.3" y="558.8" color="#2c738e"/><use href="#m" x="599.0" y="550.4" color="#2c738e"/><use href="#m" x="599.1" y="550.5" color="#2c738e"/><use href="#m" x="364.1" y="566.2" color="#2c738e"/><use href="#m" x="493.5" y="570.5" color="#2c738e"/><use href="#m" x="575.6" y="570.1" color="#2c738e"/><use href="#m" x="362.2" y="591.1" color="#2c738e"/><use href="#m" x="374.5" y="594.8" color="#2c738e"/><use href="#m" x="340.0" y="579.3" color="#2c738e"/><use href="#m" x="349.2" y="604.0" color="#2c738e"/><use href="#m" x="396.7" y="609.3" color="#2c738e"/><use href="#m" x="565.2" y="622.5" color="#2c738e"/><use href="#m" x="523.3" y="636.0" color="#2c738e"/><use href="#m" x="473.3" y="640.7" color="#2c738e"/><use href="#m" x="584.4" y="654.1" color="#2c738e"/><use href="#m" x="413.3" y="672.9" color="#2c738e"/><use href="#m" x="413.5" y="673.0" color="#2c738e"/><use href="#m" x="445.6" y="689.6" color="#2c738e"/><use href="#m" x="605.9" y="688.9" color="#2c738e"/><use href="#m" x="584.4" y="719.3" color="#2c738e"/><use href="#m" x="609.6" y="720.3" color="#2c738e"/><use href="#m" x="356.7" y="727.1" color="#2c738e"/><use href="#m" x="450.7" y="731.4" color="#2c738e"/><use href="#m" x="607.6" y="756.6" color="#2c738e"/><use href="#m" x="479.7" y="780.7" color="#2c738e"/><use href="#m" x="538.5" y="795.1" color="#2c738e"/><use href="#m" x="616.3" y="802.2" color="#2c738e"/><use href="#m" x="476.0" y="836.7" color="#2c738e"/><use href="#m" x="507.4" y="836.7" color="#2c738e"/><use href="#m" x="536.3" y="834.8" color="#2c738e"/><use href="#m" x="540.7" y="833.6" color="#2c738e"/><use href="#m" x="507.4" y="852.6" color="#2c738e"/><use href="#m" x="363.9" y="862.1" color="#2c738e"/><use href="#m" x="494.1" y="869.3" color="#2c738e"/><use href="#m" x="400.3" y="876.0" color="#2c738e"/><use href="#m" x="601.9" y="881.5" color="#2c738e"/><use href="#m" x="416.7" y="889.3" color="#2c738e"/><use href="#m" x="531.1" y="928.4" color="#2c738e"/><use href="#m" x="584.4" y="936.0" color="#2c738e"/><use href="#m" x="519.3" y="1003.4" color="#2c738e"/><use href="#m" x="499.3" y="1064.4" color="#2c738e"/><use href="#m" x="511.9" y="1074.4" color="#2c738e"/><use href="#m" x="405.9" y="1088.9" color="#2c738e"/><use href="#m" x="571.1" y="1123.7" color="#2c738e"/><use href="#m" x="571.3" y="1123.9" color="#2c738e"/><use href="#m" x="541.2" y="1171.1" color="#2c738e"/><use href="#m" x="541.3" y="1171.3" color="#2c738e"/><use href="#m" x="542.2" y="1232.1" color="#2c738e"/><use href="#m" x="705.9" y="251.1" color="#2c738e"/><use href="#m" x="691.1" y="312.6" color="#2c738e"/><use href="#m" x="794.1" y="317.0" color="#2c738e"/><use href="#m" x="794.2" y="317.2" color="#2c738e"/><use href="#m" x="861.2" y="308.9" color="#2c738e"/><use href="#m" x="636.0" y="348.6" color="#2c738e"/><use href="#m" x="888.9" y="373.3" color="#2c738e"/><use href="#m" x="620.7" y="392.6" color="#2c738e"/><use href="#m" x="800.0" y="385.2" color="#2c738e"/><use href="#m" x="806.2" y="398.5" color="#2c738e"/><use href="#m" x="847.7" y="387.0" color="#2c738e"/><use href="#m" x="843.3" y="418.8" color="#2c738e"/><use href="#m" x="867.9" y="416.6" color="#2c738e"/><use href="#m" x="717.8" y="439.3" color="#2c738e"/><use href="#m" x="717.9" y="439.4" color="#2c738e"/><use href="#m" x="777.0" y="445.9" color="#2c738e"/><use href="#m" x="819.7" y="478.8" color="#2c738e"/><use href="#m" x="786.7" y="490.8" color="#2c738e"/><use href="#m" x="623.0" y="496.3" color="#2c738e"/><use href="#m" x="624.1" y="515.6" color="#2c738e"/><use href="#m" x="821.2" y="507.0" color="#2c738e"/><use href="#m" x="855.9" y="507.0" color="#2c738e"/><use href="#m" x="795.6" y="530.4" color="#2c738e"/><use href="#m" x="708.6" y="539.3" color="#2c738e"/><use href="#m" x="756.6" y="532.6" color="#2c738e"/><use href="#m" x="750.8" y="554.4" color="#2c738e"/><use href="#m" x="665.5" y="562.7" color="#2c738e"/><use href="#m" x="664.4" y="587.7" color="#2c738e"/><use href="#m" x="697.0" y="592.6" color="#2c738e"/><use href="#m" x="847.4" y="604.4" color="#2c738e"/><use href="#m" x="761.8" y="597.0" color="#2c738e"/><use href="#m" x="744.4" y="625.2" color="#2c738e"/><use href="#m" x="767.4" y="635.6" color="#2c738e"/><use href="#m" x="734.5" y="647.0" color="#2c738e"/><use href="#m" x="751.4" y="656.3" color="#2c738e"/><use href="#m" x="722.5" y="662.2" color="#2c738e"/><use href="#m" x="717.0" y="669.3" color="#2c738e"/><use href="#m" x="853.3" y="674.8" color="#2c738e"/><use href="#m" x="853.5" y="675.0" color="#2c738e"/><use href="#m" x="632.7" y="701.9" color="#2c738e"/><use href="#m" x="742.7" y="700.7" color="#2c738e"/><use href="#m" x="741.5" y="707.4" color="#2c738e"/><use href="#m" x="699.0" y="714.1" color="#2c738e"/><use href="#m" x="825.6" y="725.2" color="#2c738e"/><use href="#m" x="825.8" y="725.3" color="#2c738e"/><use href="#m" x="774.8" y="736.3" color="#2c738e"/><use href="#m" x="807.0" y="735.3" color="#2c738e"/><use href="#m" x="657.8" y="743.0" color="#2c738e"/><use href="#m" x="754.1" y="745.9" color="#2c738e"/><use href="#m" x="632.6" y="768.1" color="#2c738e"/><use href="#m" x="767.4" y="769.6" color="#2c738e"/><use href="#m" x="706.7" y="785.9" color="#2c738e"/><use href="#m" x="809.2" y="807.1" color="#2c738e"/><use href="#m" x="809.3" y="807.3" color="#2c738e"/><use href="#m" x="669.3" y="808.4" color="#2c738e"/><use href="#m" x="669.5" y="808.6" color="#2c738e"/><use href="#m" x="808.1" y="841.5" color="#2c738e"/><use href="#m" x="681.9" y="836.0" color="#2c738e"/><use href="#m" x="682.1" y="836.1" color="#2c738e"/><use href="#m" x="655.1" y="844.0" color="#2c738e"/><use href="#m" x="719.7" y="865.5" color="#2c738e"/><use href="#m" x="884.0" y="876.3" color="#2c738e"/><use href="#m" x="830.4" y="886.7" color="#2c738e"/><use href="#m" x="830.5" y="886.8" color="#2c738e"/><use href="#m" x="709.9" y="889.6" color="#2c738e"/><use href="#m" x="710.1" y="891.9" color="#2c738e"/><use href="#m" x="851.6" y="901.5" color="#2c738e"/><use href="#m" x="849.3" y="906.7" color="#2c738e"/><use href="#m" x="713.0" y="926.7" color="#2c738e"/><use href="#m" x="698.5" y="921.8" color="#2c738e"/><use href="#m" x="890.4" y="921.5" color="#2c738e"/><use href="#m" x="897.8" y="925.2" color="#2c738e"/><use href="#m" x="731.4" y="932.9" color="#2c738e"/><use href="#m" x="731.6" y="933.0" color="#2c738e"/><use href="#m" x="661.2" y="938.5" color="#2c738e"/><use href="#m" x="777.3" y="951.6" color="#2c738e"/><use href="#m" x="693.8" y="1008.1" color="#2c738e"/><use href="#m" x="747.0" y="1020.3" color="#2c738e"/><use href="#m" x="811.4" y="1070.1" color="#2c738e"/><use href="#m" x="642.2" y="1087.4" color="#2c738e"/><use href="#m" x="864.0" y="1111.9" color="#2c738e"/><use href="#m" x="894.8" y="1127.9" color="#2c738e"/><use href="#m" x="688.9" y="1138.5" color="#2c738e"/><use href="#m" x="767.1" y="1220.4" color="#2c738e"/><use href="#m" x="643.0" y="1325.6" color="#2c738e"/><use href="#m" x="643.1" y="1325.8" color="#2c738e"/><use href="#m" x="646.7" y="1325.9" color="#2c738e"/><use href="#m" x="865.2" y="1319.3" color="#2c738e"/><use href="#m" x="857.0" y="1323.0" color="#2c738e"/><use href="#m" x="1004.1" y="117.5" color="#2c738e"/><use href="#m" x="1018.2" y="148.1" color="#2c738e"/><use href="#m" x="909.9" y="239.7" color="#2c738e"/><use href="#m" x="1113.3" y="243.4" color="#2c738e"/><use href="#m" x="1108.9" y="251.1" color="#2c738e"/><use href="#m" x="1049.6" y="340.7" color="#2c738e"/><use href="#m" x="1130.1" y="364.4" color="#2c738e"/><use href="#m" x="1067.6" y="413.8" color="#2c738e"/><use href="#m" x="1014.5" y="431.4" color="#2c738e"/><use href="#m" x="1035.6" y="461.5" color="#2c738e"/><use href="#m" x="1042.2" y="469.9" color="#2c738e"/><use href="#m" x="1008.1" y="471.4" color="#2c738e"/><use href="#m" x="1134.1" y="514.8" color="#2c738e"/><use href="#m" x="907.4" y="604.4" color="#2c738e"/><use href="#m" x="974.1" y="604.7" color="#2c738e"/><use href="#m" x="951.1" y="641.0" color="#2c738e"/><use href="#m" x="972.6" y="639.6" color="#2c738e"/><use href="#m" x="997.3" y="651.6" color="#2c738e"/><use href="#m" x="1076.3" y="675.1" color="#2c738e"/><use href="#m" x="1118.5" y="685.5" color="#2c738e"/><use href="#m" x="1063.4" y="700.0" color="#2c738e"/><use href="#m" x="917.0" y="717.0" color="#2c738e"/><use href="#m" x="1101.0" y="731.9" color="#2c738e"/><use href="#m" x="974.1" y="737.8" color="#2c738e"/><use href="#m" x="974.2" y="737.9" color="#2c738e"/><use href="#m" x="1002.7" y="738.1" color="#2c738e"/><use href="#m" x="980.7" y="766.7" color="#2c738e"/><use href="#m" x="1007.9" y="770.4" color="#2c738e"/><use href="#m" x="943.0" y="820.3" color="#2c738e"/><use href="#m" x="904.0" y="820.7" color="#2c738e"/><use href="#m" x="1155.9" y="824.4" color="#2c738e"/><use href="#m" x="1156.0" y="824.6" color="#2c738e"/><use href="#m" x="1129.2" y="915.6" color="#2c738e"/><use href="#m" x="1165.2" y="922.2" color="#2c738e"/><use href="#m" x="1141.9" y="934.1" color="#2c738e"/><use href="#m" x="930.8" y="914.8" color="#2c738e"/><use href="#m" x="920.3" y="931.1" color="#2c738e"/><use href="#m" x="1066.7" y="946.2" color="#2c738e"/><use href="#m" x="1084.4" y="944.4" color="#2c738e"/><use href="#m" x="1008.1" y="941.2" color="#2c738e"/><use href="#m" x="966.2" y="950.4" color="#2c738e"/><use href="#m" x="907.1" y="1071.9" color="#2c738e"/><use href="#m" x="944.0" y="1078.1" color="#2c738e"/><use href="#m" x="928.1" y="1083.0" color="#2c738e"/><use href="#m" x="923.7" y="1134.8" color="#2c738e"/><use href="#m" x="938.8" y="1131.4" color="#2c738e"/><use href="#m" x="1163.0" y="1054.8" color="#2c738e"/><use href="#m" x="1165.2" y="1054.1" color="#2c738e"/><use href="#m" x="1011.9" y="1171.9" color="#2c738e"/><use href="#m" x="1049.9" y="1271.6" color="#2c738e"/><use href="#m" x="1063.7" y="1286.4" color="#2c738e"/><use href="#m" x="1043.0" y="1286.2" color="#2c738e"/><use href="#m" x="1209.2" y="384.7" color="#2c738e"/><use href="#m" x="1209.3" y="384.9" color="#2c738e"/><use href="#m" x="1189.6" y="483.7" color="#2c738e"/><use href="#m" x="1314.8" y="507.7" color="#2c738e"/><use href="#m" x="1324.4" y="517.0" color="#2c738e"/><use href="#m" x="1273.0" y="530.7" color="#2c738e"/><use href="#m" x="1396.0" y="511.9" color="#2c738e"/><use href="#m" x="1385.9" y="516.3" color="#2c738e"/><use href="#m" x="1223.0" y="539.3" color="#2c738e"/><use href="#m" x="1298.7" y="549.3" color="#2c738e"/><use href="#m" x="1385.6" y="622.2" color="#2c738e"/><use href="#m" x="1300.7" y="777.0" color="#2c738e"/><use href="#m" x="1247.4" y="797.8" color="#2c738e"/><use href="#m" x="1307.1" y="805.2" color="#2c738e"/><use href="#m" x="1304.0" y="843.4" color="#2c738e"/><use href="#m" x="1287.9" y="894.4" color="#2c738e"/><use href="#m" x="1291.1" y="910.7" color="#2c738e"/><use href="#m" x="1334.4" y="961.0" color="#2c738e"/><use href="#m" x="1354.8" y="961.5" color="#2c738e"/><use href="#m" x="1367.4" y="973.0" color="#2c738e"/><use href="#m" x="1308.4" y="992.9" color="#2c738e"/><use href="#m" x="1309.6" y="1001.5" color="#2c738e"/><use href="#m" x="1314.8" y="1003.0" color="#2c738e"/><use href="#m" x="1353.3" y="1003.4" color="#2c738e"/><use href="#m" x="1376.6" y="1021.5" color="#2c738e"/><use href="#m" x="1377.3" y="1028.9" color="#2c738e"/><use href="#m" x="1200.3" y="1134.4" color="#2c738e"/><use href="#m" x="1471.9" y="705.2" color="#2c738e"/><use href="#m" x="329.3" y="575.6" color="#25858e"/><use href="#m" x="329.5" y="575.7" color="#25858e"/><use href="#m" x="164.9" y="644.4" color="#25858e"/><use href="#m" x="293.3" y="711.9" color="#25858e"/><use href="#m" x="305.6" y="714.4" color="#25858e"/><use href="#m" x="233.0" y="750.1" color="#25858e"/><use href="#m" x="327.9" y="931.9" color="#25858e"/><use href="#m" x="265.6" y="974.8" color="#25858e"/><use href="#m" x="265.8" y="975.0" color="#25858e"/><use href="#m" x="243.3" y="984.0" color="#25858e"/><use href="#m" x="270.4" y="1044.4" color="#25858e"/><use href="#m" x="363.0" y="276.6" color="#25858e"/><use href="#m" x="364.1" y="287.1" color="#25858e"/><use href="#m" x="511.1" y="259.7" color="#25858e"/><use href="#m" x="535.9" y="291.1" color="#25858e"/><use href="#m" x="536.3" y="293.3" color="#25858e"/><use href="#m" x="375.6" y="330.4" color="#25858e"/><use href="#m" x="619.3" y="394.1" color="#25858e"/><use href="#m" x="517.5" y="408.9" color="#25858e"/><use href="#m" x="506.2" y="438.1" color="#25858e"/><use href="#m" x="503.7" y="458.5" color="#25858e"/><use href="#m" x="477.0" y="472.9" color="#25858e"/><use href="#m" x="604.7" y="501.5" color="#25858e"/><use href="#m" x="590.4" y="525.2" color="#25858e"/><use href="#m" x="420.7" y="539.3" color="#25858e"/><use href="#m" x="559.0" y="559.7" color="#25858e"/><use href="#m" x="493.3" y="570.4" color="#25858e"/><use href="#m" x="400.3" y="593.3" color="#25858e"/><use href="#m" x="619.3" y="617.0" color="#25858e"/><use href="#m" x="580.3" y="611.6" color="#25858e"/><use href="#m" x="532.3" y="628.4" color="#25858e"/><use href="#m" x="351.1" y="654.5" color="#25858e"/><use href="#m" x="443.3" y="651.9" color="#25858e"/><use href="#m" x="442.2" y="668.9" color="#25858e"/><use href="#m" x="369.2" y="678.1" color="#25858e"/><use href="#m" x="369.3" y="678.2" color="#25858e"/><use href="#m" x="524.4" y="678.1" color="#25858e"/><use href="#m" x="490.4" y="690.1" color="#25858e"/><use href="#m" x="551.6" y="718.8" color="#25858e"/><use href="#m" x="551.7" y="719.0" color="#25858e"/><use href="#m" x="422.2" y="737.0" color="#25858e"/><use href="#m" x="483.4" y="752.9" color="#25858e"/><use href="#m" x="607.9" y="756.3" color="#25858e"/><use href="#m" x="420.0" y="759.3" color="#25858e"/><use href="#m" x="417.3" y="764.4" color="#25858e"/><use href="#m" x="457.0" y="773.6" color="#25858e"/><use href="#m" x="361.2" y="785.5" color="#25858e"/><use href="#m" x="611.1" y="808.9" color="#25858e"/><use href="#m" x="611.3" y="809.0" color="#25858e"/><use href="#m" x="504.4" y="806.2" color="#25858e"/><use href="#m" x="578.5" y="832.6" color="#25858e"/><use href="#m" x="581.2" y="833.6" color="#25858e"/><use href="#m" x="439.6" y="845.6" color="#25858e"/><use href="#m" x="547.0" y="850.7" color="#25858e"/><use href="#m" x="547.1" y="850.8" color="#25858e"/><use href="#m" x="363.7" y="861.9" color="#25858e"/><use href="#m" x="457.5" y="882.2" color="#25858e"/><use href="#m" x="457.6" y="882.4" color="#25858e"/><use href="#m" x="401.8" y="909.3" color="#25858e"/><use href="#m" x="585.9" y="965.6" color="#25858e"/><use href="#m" x="536.3" y="974.1" color="#25858e"/><use href="#m" x="536.4" y="974.2" color="#25858e"/><use href="#m" x="357.9" y="1020.4" color="#25858e"/><use href="#m" x="501.0" y="1013.0" color="#25858e"/><use href="#m" x="552.6" y="1014.8" color="#25858e"/><use href="#m" x="614.1" y="1004.9" color="#25858e"/><use href="#m" x="614.2" y="1005.0" color="#25858e"/><use href="#m" x="412.6" y="1058.5" color="#25858e"/><use href="#m" x="412.7" y="1058.7" color="#25858e"/><use href="#m" x="407.1" y="1090.8" color="#25858e"/><use href="#m" x="504.0" y="1110.4" color="#25858e"/><use href="#m" x="438.8" y="1162.7" color="#25858e"/><use href="#m" x="439.0" y="1162.8" color="#25858e"/><use href="#m" x="615.6" y="1210.4" color="#25858e"/><use href="#m" x="536.3" y="1221.9" color="#25858e"/><use href="#m" x="539.3" y="1222.2" color="#25858e"/><use href="#m" x="542.4" y="1232.3" color="#25858e"/><use href="#m" x="540.3" y="1249.6" color="#25858e"/><use href="#m" x="782.2" y="161.2" color="#25858e"/><use href="#m" x="782.4" y="161.3" color="#25858e"/><use href="#m" x="876.7" y="167.1" color="#25858e"/><use href="#m" x="876.9" y="167.3" color="#25858e"/><use href="#m" x="888.1" y="210.4" color="#25858e"/><use href="#m" x="891.9" y="211.9" color="#25858e"/><use href="#m" x="665.2" y="271.9" color="#25858e"/><use href="#m" x="664.4" y="274.1" color="#25858e"/><use href="#m" x="861.5" y="309.0" color="#25858e"/><use href="#m" x="764.9" y="357.0" color="#25858e"/><use href="#m" x="659.6" y="392.9" color="#25858e"/><use href="#m" x="625.6" y="398.5" color="#25858e"/><use href="#m" x="800.7" y="381.0" color="#25858e"/><use href="#m" x="736.3" y="412.1" color="#25858e"/><use href="#m" x="785.9" y="447.1" color="#25858e"/><use href="#m" x="634.8" y="471.9" color="#25858e"/><use href="#m" x="872.1" y="482.7" color="#25858e"/><use href="#m" x="699.3" y="520.3" color="#25858e"/><use href="#m" x="699.4" y="520.4" color="#25858e"/><use href="#m" x="772.1" y="519.3" color="#25858e"/><use href="#m" x="816.7" y="528.9" color="#25858e"/><use href="#m" x="694.8" y="534.1" color="#25858e"/><use href="#m" x="788.9" y="533.3" color="#25858e"/><use href="#m" x="825.9" y="552.6" color="#25858e"/><use href="#m" x="851.9" y="551.9" color="#25858e"/><use href="#m" x="852.0" y="552.0" color="#25858e"/><use href="#m" x="760.7" y="558.2" color="#25858e"/><use href="#m" x="725.9" y="561.5" color="#25858e"/><use href="#m" x="679.3" y="566.7" color="#25858e"/><use href="#m" x="838.2" y="575.1" color="#25858e"/><use href="#m" x="665.2" y="600.0" color="#25858e"/><use href="#m" x="644.1" y="609.6" color="#25858e"/><use href="#m" x="729.2" y="612.6" color="#25858e"/><use href="#m" x="678.5" y="616.6" color="#25858e"/><use href="#m" x="771.9" y="618.5" color="#25858e"/><use href="#m" x="621.5" y="617.0" color="#25858e"/><use href="#m" x="632.6" y="638.5" color="#25858e"/><use href="#m" x="629.6" y="644.4" color="#25858e"/><use href="#m" x="629.8" y="644.6" color="#25858e"/><use href="#m" x="692.6" y="676.0" color="#25858e"/><use href="#m" x="881.9" y="712.3" color="#25858e"/><use href="#m" x="882.5" y="720.4" color="#25858e"/><use href="#m" x="682.2" y="708.9" color="#25858e"/><use href="#m" x="683.3" y="714.1" color="#25858e"/><use href="#m" x="651.6" y="715.6" color="#25858e"/><use href="#m" x="708.9" y="724.7" color="#25858e"/><use href="#m" x="855.3" y="734.1" color="#25858e"/><use href="#m" x="855.4" y="734.2" color="#25858e"/><use href="#m" x="654.1" y="745.2" color="#25858e"/><use href="#m" x="654.2" y="745.3" color="#25858e"/><use href="#m" x="855.6" y="755.6" color="#25858e"/><use href="#m" x="852.6" y="758.5" color="#25858e"/><use href="#m" x="701.5" y="764.9" color="#25858e"/><use href="#m" x="674.8" y="774.5" color="#25858e"/><use href="#m" x="784.4" y="788.9" color="#25858e"/><use href="#m" x="781.6" y="792.0" color="#25858e"/><use href="#m" x="879.0" y="789.3" color="#25858e"/><use href="#m" x="899.4" y="780.9" color="#25858e"/><use href="#m" x="701.2" y="812.9" color="#25858e"/><use href="#m" x="647.4" y="824.4" color="#25858e"/><use href="#m" x="717.0" y="830.1" color="#25858e"/><use href="#m" x="802.5" y="841.2" color="#25858e"/><use href="#m" x="851.6" y="828.9" color="#25858e"/><use href="#m" x="798.5" y="865.6" color="#25858e"/><use href="#m" x="812.7" y="865.0" color="#25858e"/><use href="#m" x="830.4" y="863.7" color="#25858e"/><use href="#m" x="821.8" y="871.6" color="#25858e"/><use href="#m" x="844.9" y="875.3" color="#25858e"/><use href="#m" x="774.4" y="876.3" color="#25858e"/><use href="#m" x="816.3" y="882.7" color="#25858e"/><use href="#m" x="816.4" y="882.8" color="#25858e"/><use href="#m" x="767.7" y="901.5" color="#25858e"/><use href="#m" x="637.3" y="939.6" color="#25858e"/><use href="#m" x="637.5" y="939.7" color="#25858e"/><use href="#m" x="713.0" y="938.5" color="#25858e"/><use href="#m" x="821.2" y="953.0" color="#25858e"/><use href="#m" x="708.6" y="960.4" color="#25858e"/><use href="#m" x="810.4" y="983.3" color="#25858e"/><use href="#m" x="810.5" y="983.4" color="#25858e"/><use href="#m" x="650.1" y="994.8" color="#25858e"/><use href="#m" x="746.4" y="1017.8" color="#25858e"/><use href="#m" x="815.1" y="1049.9" color="#25858e"/><use href="#m" x="813.3" y="1063.0" color="#25858e"/><use href="#m" x="892.3" y="1043.3" color="#25858e"/><use href="#m" x="869.2" y="1082.2" color="#25858e"/><use href="#m" x="886.2" y="1088.1" color="#25858e"/><use href="#m" x="894.8" y="1094.8" color="#25858e"/><use href="#m" x="857.0" y="1137.8" color="#25858e"/><use href="#m" x="688.1" y="1134.8" color="#25858e"/><use href="#m" x="783.0" y="1133.3" color="#25858e"/><use href="#m" x="798.2" y="1149.9" color="#25858e"/><use href="#m" x="760.0" y="1161.9" color="#25858e"/><use href="#m" x="767.4" y="1202.2" color="#25858e"/><use href="#m" x="853.6" y="1320.7" color="#25858e"/><use href="#m" x="858.5" y="1323.7" color="#25858e"/><use href="#m" x="858.8" y="1325.9" color="#25858e"/><use href="#m" x="995.6" y="129.2" color="#25858e"/><use href="#m" x="1018.4" y="148.3" color="#25858e"/><use href="#m" x="1037.8" y="337.0" color="#25858e"/><use href="#m" x="1045.9" y="338.1" color="#25858e"/><use href="#m" x="1062.2" y="347.4" color="#25858e"/><use href="#m" x="1025.6" y="350.4" color="#25858e"/><use href="#m" x="1134.1" y="367.1" color="#25858e"/><use href="#m" x="1140.7" y="372.6" color="#25858e"/><use href="#m" x="1145.2" y="370.7" color="#25858e"/><use href="#m" x="958.5" y="392.6" color="#25858e"/><use href="#m" x="958.7" y="392.7" color="#25858e"/><use href="#m" x="1067.7" y="413.9" color="#25858e"/><use href="#m" x="1163.0" y="454.1" color="#25858e"/><use href="#m" x="1163.1" y="454.2" color="#25858e"/><use href="#m" x="1028.6" y="459.0" color="#25858e"/><use href="#m" x="1041.5" y="479.3" color="#25858e"/><use href="#m" x="1013.3" y="473.0" color="#25858e"/><use href="#m" x="1038.2" y="510.4" color="#25858e"/><use href="#m" x="1038.4" y="510.5" color="#25858e"/><use href="#m" x="904.1" y="519.0" color="#25858e"/><use href="#m" x="1048.1" y="539.3" color="#25858e"/><use href="#m" x="905.9" y="599.3" color="#25858e"/><use href="#m" x="906.1" y="599.4" color="#25858e"/><use href="#m" x="907.9" y="611.0" color="#25858e"/><use href="#m" x="909.2" y="618.2" color="#25858e"/><use href="#m" x="1113.3" y="591.1" color="#25858e"/><use href="#m" x="1116.3" y="656.6" color="#25858e"/><use href="#m" x="1112.9" y="667.7" color="#25858e"/><use href="#m" x="1012.6" y="697.8" color="#25858e"/><use href="#m" x="1129.3" y="700.7" color="#25858e"/><use href="#m" x="1004.7" y="733.6" color="#25858e"/><use href="#m" x="1004.7" y="742.5" color="#25858e"/><use href="#m" x="1081.5" y="803.0" color="#25858e"/><use href="#m" x="1081.6" y="803.1" color="#25858e"/><use href="#m" x="986.4" y="815.1" color="#25858e"/><use href="#m" x="935.6" y="829.6" color="#25858e"/><use href="#m" x="984.9" y="834.8" color="#25858e"/><use href="#m" x="1156.6" y="828.9" color="#25858e"/><use href="#m" x="972.6" y="855.6" color="#25858e"/><use href="#m" x="1075.9" y="855.6" color="#25858e"/><use href="#m" x="1073.6" y="859.0" color="#25858e"/><use href="#m" x="1165.2" y="848.1" color="#25858e"/><use href="#m" x="1170.4" y="874.8" color="#25858e"/><use href="#m" x="941.2" y="881.5" color="#25858e"/><use href="#m" x="945.9" y="879.6" color="#25858e"/><use href="#m" x="1136.3" y="922.2" color="#25858e"/><use href="#m" x="1137.8" y="925.2" color="#25858e"/><use href="#m" x="916.6" y="920.4" color="#25858e"/><use href="#m" x="916.3" y="936.3" color="#25858e"/><use href="#m" x="1125.6" y="959.0" color="#25858e"/><use href="#m" x="975.9" y="940.7" color="#25858e"/><use href="#m" x="953.8" y="951.1" color="#25858e"/><use href="#m" x="917.8" y="957.5" color="#25858e"/><use href="#m" x="1035.1" y="971.6" color="#25858e"/><use href="#m" x="1035.3" y="971.7" color="#25858e"/><use href="#m" x="951.9" y="979.3" color="#25858e"/><use href="#m" x="957.0" y="987.4" color="#25858e"/><use href="#m" x="956.3" y="1008.9" color="#25858e"/><use href="#m" x="1020.7" y="984.4" color="#25858e"/><use href="#m" x="1025.9" y="988.1" color="#25858e"/><use href="#m" x="1034.1" y="1015.6" color="#25858e"/><use href="#m" x="1034.2" y="1015.7" color="#25858e"/><use href="#m" x="1114.5" y="1034.5" color="#25858e"/><use href="#m" x="904.4" y="1058.1" color="#25858e"/><use href="#m" x="902.2" y="1089.6" color="#25858e"/><use href="#m" x="909.2" y="1095.3" color="#25858e"/><use href="#m" x="920.0" y="1123.0" color="#25858e"/><use href="#m" x="924.4" y="1121.8" color="#25858e"/><use href="#m" x="925.2" y="1131.1" color="#25858e"/><use href="#m" x="1154.4" y="1055.6" color="#25858e"/><use href="#m" x="1105.2" y="1076.0" color="#25858e"/><use href="#m" x="1024.0" y="1122.5" color="#25858e"/><use href="#m" x="1015.6" y="1135.1" color="#25858e"/><use href="#m" x="1015.6" y="1146.7" color="#25858e"/><use href="#m" x="1056.3" y="1269.6" color="#25858e"/><use href="#m" x="1058.5" y="1277.0" color="#25858e"/><use href="#m" x="1060.7" y="1281.2" color="#25858e"/><use href="#m" x="1197.5" y="456.7" color="#25858e"/><use href="#m" x="1197.6" y="456.9" color="#25858e"/><use href="#m" x="1325.9" y="521.5" color="#25858e"/><use href="#m" x="1329.3" y="523.3" color="#25858e"/><use href="#m" x="1328.1" y="526.7" color="#25858e"/><use href="#m" x="1323.7" y="520.7" color="#25858e"/><use href="#m" x="1383.0" y="512.6" color="#25858e"/><use href="#m" x="1386.7" y="511.1" color="#25858e"/><use href="#m" x="1223.7" y="546.2" color="#25858e"/><use href="#m" x="1294.8" y="547.4" color="#25858e"/><use href="#m" x="1298.5" y="549.2" color="#25858e"/><use href="#m" x="1401.5" y="620.0" color="#25858e"/><use href="#m" x="1401.6" y="620.1" color="#25858e"/><use href="#m" x="1404.4" y="621.0" color="#25858e"/><use href="#m" x="1244.7" y="767.7" color="#25858e"/><use href="#m" x="1297.8" y="780.7" color="#25858e"/><use href="#m" x="1301.5" y="793.3" color="#25858e"/><use href="#m" x="1295.6" y="834.1" color="#25858e"/><use href="#m" x="1317.5" y="832.6" color="#25858e"/><use href="#m" x="1252.6" y="851.9" color="#25858e"/><use href="#m" x="1314.8" y="859.6" color="#25858e"/><use href="#m" x="1208.9" y="924.0" color="#25858e"/><use href="#m" x="1273.6" y="933.6" color="#25858e"/><use href="#m" x="1287.7" y="942.2" color="#25858e"/><use href="#m" x="1288.9" y="949.3" color="#25858e"/><use href="#m" x="1359.3" y="985.6" color="#25858e"/><use href="#m" x="1322.2" y="990.4" color="#25858e"/><use href="#m" x="1312.6" y="991.9" color="#25858e"/><use href="#m" x="1332.6" y="990.7" color="#25858e"/><use href="#m" x="1320.0" y="996.3" color="#25858e"/><use href="#m" x="1318.8" y="1010.8" color="#25858e"/><use href="#m" x="1317.0" y="999.3" color="#25858e"/><use href="#m" x="1239.3" y="1078.2" color="#25858e"/><use href="#m" x="1245.2" y="1079.6" color="#25858e"/><use href="#m" x="1248.4" y="1084.9" color="#25858e"/><use href="#m" x="1247.4" y="1091.1" color="#25858e"/><use href="#m" x="1224.0" y="1114.4" color="#25858e"/><use href="#m" x="250.4" y="547.1" color="#27ad81"/><use href="#m" x="336.3" y="547.9" color="#27ad81"/><use href="#m" x="179.3" y="648.6" color="#27ad81"/><use href="#m" x="326.2" y="652.6" color="#27ad81"/><use href="#m" x="227.1" y="739.3" color="#27ad81"/><use href="#m" x="327.9" y="930.4" color="#27ad81"/><use href="#m" x="261.8" y="1017.5" color="#27ad81"/><use href="#m" x="376.7" y="264.1" color="#27ad81"/><use href="#m" x="458.2" y="163.0" color="#27ad81"/><use href="#m" x="511.9" y="271.1" color="#27ad81"/><use href="#m" x="523.3" y="305.2" color="#27ad81"/><use href="#m" x="499.3" y="309.6" color="#27ad81"/><use href="#m" x="604.4" y="278.5" color="#27ad81"/><use href="#m" x="569.3" y="328.4" color="#27ad81"/><use href="#m" x="561.0" y="338.5" color="#27ad81"/><use href="#m" x="557.0" y="347.9" color="#27ad81"/><use href="#m" x="559.3" y="377.8" color="#27ad81"/><use href="#m" x="414.8" y="419.3" color="#27ad81"/><use href="#m" x="347.9" y="420.3" color="#27ad81"/><use href="#m" x="545.9" y="511.4" color="#27ad81"/><use href="#m" x="457.0" y="525.2" color="#27ad81"/><use href="#m" x="457.3" y="537.8" color="#27ad81"/><use href="#m" x="349.6" y="563.7" color="#27ad81"/><use href="#m" x="346.7" y="567.4" color="#27ad81"/><use href="#m" x="610.7" y="571.9" color="#27ad81"/><use href="#m" x="376.0" y="576.3" color="#27ad81"/><use href="#m" x="374.4" y="583.7" color="#27ad81"/><use href="#m" x="394.5" y="582.2" color="#27ad81"/><use href="#m" x="541.5" y="596.6" color="#27ad81"/><use href="#m" x="551.1" y="595.6" color="#27ad81"/><use href="#m" x="619.3" y="582.2" color="#27ad81"/><use href="#m" x="358.5" y="607.0" color="#27ad81"/><use href="#m" x="520.7" y="617.3" color="#27ad81"/><use href="#m" x="372.9" y="632.3" color="#27ad81"/><use href="#m" x="440.3" y="634.1" color="#27ad81"/><use href="#m" x="450.8" y="648.4" color="#27ad81"/><use href="#m" x="445.2" y="658.5" color="#27ad81"/><use href="#m" x="549.6" y="654.5" color="#27ad81"/><use href="#m" x="607.4" y="657.8" color="#27ad81"/><use href="#m" x="619.3" y="674.1" color="#27ad81"/><use href="#m" x="619.4" y="674.2" color="#27ad81"/><use href="#m" x="453.0" y="674.1" color="#27ad81"/><use href="#m" x="524.6" y="678.2" color="#27ad81"/><use href="#m" x="345.9" y="734.1" color="#27ad81"/><use href="#m" x="468.6" y="731.6" color="#27ad81"/><use href="#m" x="445.5" y="749.2" color="#27ad81"/><use href="#m" x="428.9" y="762.2" color="#27ad81"/><use href="#m" x="590.8" y="765.2" color="#27ad81"/><use href="#m" x="539.3" y="777.5" color="#27ad81"/><use href="#m" x="395.3" y="770.8" color="#27ad81"/><use href="#m" x="473.8" y="768.4" color="#27ad81"/><use href="#m" x="457.2" y="773.8" color="#27ad81"/><use href="#m" x="577.8" y="774.4" color="#27ad81"/><use href="#m" x="428.6" y="792.9" color="#27ad81"/><use href="#m" x="474.5" y="793.6" color="#27ad81"/><use href="#m" x="474.7" y="793.8" color="#27ad81"/><use href="#m" x="581.0" y="797.0" color="#27ad81"/><use href="#m" x="494.4" y="803.4" color="#27ad81"/><use href="#m" x="504.6" y="806.4" color="#27ad81"/><use href="#m" x="358.1" y="823.7" color="#27ad81"/><use href="#m" x="439.7" y="845.8" color="#27ad81"/><use href="#m" x="408.1" y="858.5" color="#27ad81"/><use href="#m" x="501.2" y="867.0" color="#27ad81"/><use href="#m" x="510.7" y="872.6" color="#27ad81"/><use href="#m" x="438.8" y="899.3" color="#27ad81"/><use href="#m" x="576.0" y="950.1" color="#27ad81"/><use href="#m" x="590.4" y="948.1" color="#27ad81"/><use href="#m" x="416.3" y="971.9" color="#27ad81"/><use href="#m" x="409.9" y="984.4" color="#27ad81"/><use href="#m" x="354.8" y="1018.2" color="#27ad81"/><use href="#m" x="364.1" y="1021.2" color="#27ad81"/><use href="#m" x="458.5" y="1003.3" color="#27ad81"/><use href="#m" x="465.9" y="1006.7" color="#27ad81"/><use href="#m" x="491.1" y="1015.9" color="#27ad81"/><use href="#m" x="564.0" y="1010.4" color="#27ad81"/><use href="#m" x="401.2" y="1088.1" color="#27ad81"/><use href="#m" x="613.5" y="1153.5" color="#27ad81"/><use href="#m" x="598.5" y="1195.6" color="#27ad81"/><use href="#m" x="615.7" y="1210.5" color="#27ad81"/><use href="#m" x="611.6" y="1315.9" color="#27ad81"/><use href="#m" x="884.1" y="216.6" color="#27ad81"/><use href="#m" x="840.7" y="307.9" color="#27ad81"/><use href="#m" x="628.6" y="384.4" color="#27ad81"/><use href="#m" x="885.2" y="364.4" color="#27ad81"/><use href="#m" x="675.6" y="406.4" color="#27ad81"/><use href="#m" x="687.4" y="417.8" color="#27ad81"/><use href="#m" x="885.2" y="416.0" color="#27ad81"/><use href="#m" x="664.4" y="429.6" color="#27ad81"/><use href="#m" x="666.7" y="429.3" color="#27ad81"/><use href="#m" x="694.1" y="475.9" color="#27ad81"/><use href="#m" x="810.1" y="512.1" color="#27ad81"/><use href="#m" x="896.7" y="516.0" color="#27ad81"/><use href="#m" x="826.7" y="521.9" color="#27ad81"/><use href="#m" x="843.4" y="528.9" color="#27ad81"/><use href="#m" x="732.9" y="537.8" color="#27ad81"/><use href="#m" x="654.4" y="547.4" color="#27ad81"/><use href="#m" x="817.8" y="548.1" color="#27ad81"/><use href="#m" x="624.4" y="568.1" color="#27ad81"/><use href="#m" x="744.4" y="581.9" color="#27ad81"/><use href="#m" x="698.1" y="580.3" color="#27ad81"/><use href="#m" x="714.8" y="584.4" color="#27ad81"/><use href="#m" x="620.0" y="582.2" color="#27ad81"/><use href="#m" x="644.3" y="609.8" color="#27ad81"/><use href="#m" x="643.7" y="613.3" color="#27ad81"/><use href="#m" x="833.8" y="620.7" color="#27ad81"/><use href="#m" x="703.7" y="632.9" color="#27ad81"/><use href="#m" x="633.3" y="649.6" color="#27ad81"/><use href="#m" x="876.3" y="650.8" color="#27ad81"/><use href="#m" x="681.5" y="666.7" color="#27ad81"/><use href="#m" x="700.7" y="664.9" color="#27ad81"/><use href="#m" x="621.5" y="674.1" color="#27ad81"/><use href="#m" x="621.6" y="674.2" color="#27ad81"/><use href="#m" x="710.7" y="675.6" color="#27ad81"/><use href="#m" x="797.0" y="681.5" color="#27ad81"/><use href="#m" x="726.2" y="690.4" color="#27ad81"/><use href="#m" x="768.6" y="713.3" color="#27ad81"/><use href="#m" x="877.8" y="699.0" color="#27ad81"/><use href="#m" x="651.7" y="715.7" color="#27ad81"/><use href="#m" x="686.2" y="728.1" color="#27ad81"/><use href="#m" x="713.3" y="728.9" color="#27ad81"/><use href="#m" x="720.4" y="734.1" color="#27ad81"/><use href="#m" x="758.5" y="756.3" color="#27ad81"/><use href="#m" x="787.4" y="759.3" color="#27ad81"/><use href="#m" x="671.9" y="766.7" color="#27ad81"/><use href="#m" x="819.3" y="764.4" color="#27ad81"/><use href="#m" x="761.0" y="786.7" color="#27ad81"/><use href="#m" x="781.5" y="791.9" color="#27ad81"/><use href="#m" x="845.2" y="776.7" color="#27ad81"/><use href="#m" x="899.3" y="780.7" color="#27ad81"/><use href="#m" x="734.1" y="803.7" color="#27ad81"/><use href="#m" x="754.8" y="816.3" color="#27ad81"/><use href="#m" x="655.6" y="817.5" color="#27ad81"/><use href="#m" x="709.6" y="825.2" color="#27ad81"/><use href="#m" x="792.1" y="835.6" color="#27ad81"/><use href="#m" x="850.4" y="836.6" color="#27ad81"/><use href="#m" x="828.1" y="840.0" color="#27ad81"/><use href="#m" x="843.0" y="846.7" color="#27ad81"/><use href="#m" x="798.7" y="865.8" color="#27ad81"/><use href="#m" x="812.6" y="864.9" color="#27ad81"/><use href="#m" x="832.6" y="868.9" color="#27ad81"/><use href="#m" x="865.9" y="864.7" color="#27ad81"/><use href="#m" x="856.3" y="873.3" color="#27ad81"/><use href="#m" x="800.0" y="887.0" color="#27ad81"/><use href="#m" x="800.1" y="887.1" color="#27ad81"/><use href="#m" x="746.2" y="884.0" color="#27ad81"/><use href="#m" x="685.2" y="891.6" color="#27ad81"/><use href="#m" x="813.5" y="905.3" color="#27ad81"/><use href="#m" x="861.9" y="896.0" color="#27ad81"/><use href="#m" x="867.0" y="906.4" color="#27ad81"/><use href="#m" x="722.5" y="917.5" color="#27ad81"/><use href="#m" x="715.1" y="922.2" color="#27ad81"/><use href="#m" x="719.7" y="943.0" color="#27ad81"/><use href="#m" x="783.4" y="944.7" color="#27ad81"/><use href="#m" x="899.7" y="953.3" color="#27ad81"/><use href="#m" x="825.2" y="970.1" color="#27ad81"/><use href="#m" x="661.5" y="1049.6" color="#27ad81"/><use href="#m" x="900.0" y="1057.8" color="#27ad81"/><use href="#m" x="714.8" y="1090.4" color="#27ad81"/><use href="#m" x="857.8" y="1077.0" color="#27ad81"/><use href="#m" x="881.2" y="1094.1" color="#27ad81"/><use href="#m" x="899.3" y="1094.1" color="#27ad81"/><use href="#m" x="850.8" y="1101.8" color="#27ad81"/><use href="#m" x="800.7" y="1183.7" color="#27ad81"/><use href="#m" x="794.1" y="1205.9" color="#27ad81"/><use href="#m" x="760.3" y="1285.9" color="#27ad81"/><use href="#m" x="821.2" y="1338.1" color="#27ad81"/><use href="#m" x="1010.4" y="121.5" color="#27ad81"/><use href="#m" x="997.3" y="255.9" color="#27ad81"/><use href="#m" x="997.5" y="256.0" color="#27ad81"/><use href="#m" x="1020.0" y="437.0" color="#27ad81"/><use href="#m" x="915.6" y="450.8" color="#27ad81"/><use href="#m" x="1159.0" y="451.6" color="#27ad81"/><use href="#m" x="1133.6" y="505.2" color="#27ad81"/><use href="#m" x="1133.8" y="505.3" color="#27ad81"/><use href="#m" x="981.9" y="595.9" color="#27ad81"/><use href="#m" x="958.5" y="605.5" color="#27ad81"/><use href="#m" x="981.9" y="611.6" color="#27ad81"/><use href="#m" x="1107.4" y="597.0" color="#27ad81"/><use href="#m" x="1120.7" y="607.4" color="#27ad81"/><use href="#m" x="1118.5" y="610.4" color="#27ad81"/><use href="#m" x="982.2" y="632.1" color="#27ad81"/><use href="#m" x="988.9" y="647.4" color="#27ad81"/><use href="#m" x="1175.9" y="667.0" color="#27ad81"/><use href="#m" x="1081.5" y="670.4" color="#27ad81"/><use href="#m" x="950.4" y="667.4" color="#27ad81"/><use href="#m" x="927.0" y="685.2" color="#27ad81"/><use href="#m" x="1013.0" y="703.7" color="#27ad81"/><use href="#m" x="976.7" y="745.2" color="#27ad81"/><use href="#m" x="935.7" y="829.8" color="#27ad81"/><use href="#m" x="976.3" y="835.6" color="#27ad81"/><use href="#m" x="966.2" y="844.0" color="#27ad81"/><use href="#m" x="1174.1" y="867.4" color="#27ad81"/><use href="#m" x="1179.7" y="877.0" color="#27ad81"/><use href="#m" x="1073.0" y="892.3" color="#27ad81"/><use href="#m" x="914.4" y="914.1" color="#27ad81"/><use href="#m" x="912.6" y="942.2" color="#27ad81"/><use href="#m" x="1078.5" y="932.3" color="#27ad81"/><use href="#m" x="1094.1" y="954.8" color="#27ad81"/><use href="#m" x="990.4" y="949.6" color="#27ad81"/><use href="#m" x="903.7" y="954.1" color="#27ad81"/><use href="#m" x="956.7" y="997.5" color="#27ad81"/><use href="#m" x="960.0" y="1023.3" color="#27ad81"/><use href="#m" x="1119.3" y="1022.2" color="#27ad81"/><use href="#m" x="918.1" y="1068.9" color="#27ad81"/><use href="#m" x="917.8" y="1077.0" color="#27ad81"/><use href="#m" x="903.7" y="1118.5" color="#27ad81"/><use href="#m" x="955.6" y="1114.4" color="#27ad81"/><use href="#m" x="1086.4" y="1060.7" color="#27ad81"/><use href="#m" x="1138.1" y="1061.5" color="#27ad81"/><use href="#m" x="1063.7" y="1069.9" color="#27ad81"/><use href="#m" x="1069.3" y="1073.6" color="#27ad81"/><use href="#m" x="1115.9" y="1097.5" color="#27ad81"/><use href="#m" x="1068.1" y="1276.3" color="#27ad81"/><use href="#m" x="1070.4" y="1276.3" color="#27ad81"/><use href="#m" x="1283.7" y="352.6" color="#27ad81"/><use href="#m" x="1283.9" y="352.7" color="#27ad81"/><use href="#m" x="1202.5" y="490.1" color="#27ad81"/><use href="#m" x="1319.0" y="511.9" color="#27ad81"/><use href="#m" x="1189.2" y="535.1" color="#27ad81"/><use href="#m" x="1232.1" y="543.7" color="#27ad81"/><use href="#m" x="1350.4" y="554.4" color="#27ad81"/><use href="#m" x="1183.7" y="634.8" color="#27ad81"/><use href="#m" x="1192.6" y="640.4" color="#27ad81"/><use href="#m" x="1185.2" y="659.3" color="#27ad81"/><use href="#m" x="1252.6" y="696.3" color="#27ad81"/><use href="#m" x="1284.4" y="774.4" color="#27ad81"/><use href="#m" x="1290.8" y="810.4" color="#27ad81"/><use href="#m" x="1182.2" y="877.0" color="#27ad81"/><use href="#m" x="1199.3" y="883.4" color="#27ad81"/><use href="#m" x="1216.3" y="893.8" color="#27ad81"/><use href="#m" x="1214.5" y="900.7" color="#27ad81"/><use href="#m" x="1352.1" y="943.3" color="#27ad81"/><use href="#m" x="1304.9" y="974.4" color="#27ad81"/><use href="#m" x="1350.4" y="971.1" color="#27ad81"/><use href="#m" x="1321.8" y="982.2" color="#27ad81"/><use href="#m" x="1345.9" y="985.9" color="#27ad81"/><use href="#m" x="1314.1" y="986.7" color="#27ad81"/><use href="#m" x="1321.5" y="984.4" color="#27ad81"/><use href="#m" x="1371.9" y="1011.6" color="#27ad81"/><use href="#m" x="1239.3" y="1082.2" color="#27ad81"/><use href="#m" x="1515.3" y="652.3" color="#27ad81"/><use href="#m" x="250.1" y="537.8" color="#48c16e"/><use href="#m" x="234.8" y="746.2" color="#48c16e"/><use href="#m" x="253.6" y="852.6" color="#48c16e"/><use href="#m" x="253.8" y="852.7" color="#48c16e"/><use href="#m" x="264.7" y="1028.4" color="#48c16e"/><use href="#m" x="264.9" y="1028.6" color="#48c16e"/><use href="#m" x="356.1" y="277.6" color="#48c16e"/><use href="#m" x="387.1" y="264.6" color="#48c16e"/><use href="#m" x="458.2" y="163.1" color="#48c16e"/><use href="#m" x="502.2" y="310.4" color="#48c16e"/><use href="#m" x="474.1" y="316.3" color="#48c16e"/><use href="#m" x="605.2" y="277.0" color="#48c16e"/><use href="#m" x="529.6" y="328.1" color="#48c16e"/><use href="#m" x="511.1" y="372.9" color="#48c16e"/><use href="#m" x="511.3" y="373.0" color="#48c16e"/><use href="#m" x="348.0" y="420.4" color="#48c16e"/><use href="#m" x="581.2" y="421.2" color="#48c16e"/><use href="#m" x="581.3" y="421.3" color="#48c16e"/><use href="#m" x="602.7" y="445.6" color="#48c16e"/><use href="#m" x="602.8" y="445.8" color="#48c16e"/><use href="#m" x="538.5" y="454.1" color="#48c16e"/><use href="#m" x="538.7" y="454.2" color="#48c16e"/><use href="#m" x="504.4" y="460.7" color="#48c16e"/><use href="#m" x="504.6" y="460.9" color="#48c16e"/><use href="#m" x="456.6" y="488.9" color="#48c16e"/><use href="#m" x="590.1" y="510.4" color="#48c16e"/><use href="#m" x="570.1" y="536.7" color="#48c16e"/><use href="#m" x="519.0" y="555.6" color="#48c16e"/><use href="#m" x="475.1" y="581.9" color="#48c16e"/><use href="#m" x="523.4" y="588.1" color="#48c16e"/><use href="#m" x="523.6" y="588.3" color="#48c16e"/><use href="#m" x="547.4" y="595.6" color="#48c16e"/><use href="#m" x="604.0" y="583.0" color="#48c16e"/><use href="#m" x="385.2" y="606.4" color="#48c16e"/><use href="#m" x="570.4" y="619.3" color="#48c16e"/><use href="#m" x="345.2" y="641.5" color="#48c16e"/><use href="#m" x="586.7" y="653.3" color="#48c16e"/><use href="#m" x="446.7" y="694.1" color="#48c16e"/><use href="#m" x="584.4" y="700.0" color="#48c16e"/><use href="#m" x="584.6" y="700.1" color="#48c16e"/><use href="#m" x="394.4" y="721.0" color="#48c16e"/><use href="#m" x="392.9" y="752.9" color="#48c16e"/><use href="#m" x="562.7" y="748.1" color="#48c16e"/><use href="#m" x="583.0" y="744.1" color="#48c16e"/><use href="#m" x="582.2" y="783.0" color="#48c16e"/><use href="#m" x="582.4" y="783.1" color="#48c16e"/><use href="#m" x="358.2" y="823.9" color="#48c16e"/><use href="#m" x="602.2" y="881.9" color="#48c16e"/><use href="#m" x="619.3" y="885.2" color="#48c16e"/><use href="#m" x="612.6" y="949.9" color="#48c16e"/><use href="#m" x="504.9" y="967.7" color="#48c16e"/><use href="#m" x="421.2" y="977.0" color="#48c16e"/><use href="#m" x="523.0" y="1033.3" color="#48c16e"/><use href="#m" x="523.1" y="1033.5" color="#48c16e"/><use href="#m" x="500.7" y="1068.4" color="#48c16e"/><use href="#m" x="501.5" y="1112.3" color="#48c16e"/><use href="#m" x="495.3" y="1120.1" color="#48c16e"/><use href="#m" x="613.3" y="1153.3" color="#48c16e"/><use href="#m" x="600.7" y="1198.5" color="#48c16e"/><use href="#m" x="613.3" y="1325.2" color="#48c16e"/><use href="#m" x="620.7" y="177.8" color="#48c16e"/><use href="#m" x="673.0" y="244.4" color="#48c16e"/><use href="#m" x="622.2" y="317.8" color="#48c16e"/><use href="#m" x="851.1" y="359.7" color="#48c16e"/><use href="#m" x="875.6" y="365.2" color="#48c16e"/><use href="#m" x="732.1" y="410.4" color="#48c16e"/><use href="#m" x="846.7" y="422.5" color="#48c16e"/><use href="#m" x="668.9" y="428.1" color="#48c16e"/><use href="#m" x="634.1" y="437.0" color="#48c16e"/><use href="#m" x="874.1" y="445.2" color="#48c16e"/><use href="#m" x="692.6" y="475.6" color="#48c16e"/><use href="#m" x="695.9" y="476.3" color="#48c16e"/><use href="#m" x="808.1" y="475.6" color="#48c16e"/><use href="#m" x="832.9" y="512.3" color="#48c16e"/><use href="#m" x="698.5" y="537.0" color="#48c16e"/><use href="#m" x="727.0" y="560.0" color="#48c16e"/><use href="#m" x="727.1" y="560.1" color="#48c16e"/><use href="#m" x="669.9" y="563.0" color="#48c16e"/><use href="#m" x="805.2" y="582.5" color="#48c16e"/><use href="#m" x="805.3" y="582.7" color="#48c16e"/><use href="#m" x="741.8" y="587.4" color="#48c16e"/><use href="#m" x="772.9" y="640.7" color="#48c16e"/><use href="#m" x="773.0" y="640.9" color="#48c16e"/><use href="#m" x="691.1" y="641.8" color="#48c16e"/><use href="#m" x="740.9" y="664.3" color="#48c16e"/><use href="#m" x="692.1" y="672.6" color="#48c16e"/><use href="#m" x="878.5" y="700.7" color="#48c16e"/><use href="#m" x="841.8" y="713.6" color="#48c16e"/><use href="#m" x="808.4" y="734.8" color="#48c16e"/><use href="#m" x="656.0" y="788.0" color="#48c16e"/><use href="#m" x="813.3" y="787.7" color="#48c16e"/><use href="#m" x="813.5" y="787.9" color="#48c16e"/><use href="#m" x="647.6" y="824.6" color="#48c16e"/><use href="#m" x="628.6" y="862.7" color="#48c16e"/><use href="#m" x="628.7" y="862.8" color="#48c16e"/><use href="#m" x="685.3" y="891.7" color="#48c16e"/><use href="#m" x="621.5" y="886.4" color="#48c16e"/><use href="#m" x="621.6" y="886.5" color="#48c16e"/><use href="#m" x="651.4" y="901.8" color="#48c16e"/><use href="#m" x="651.6" y="901.9" color="#48c16e"/><use href="#m" x="813.3" y="905.2" color="#48c16e"/><use href="#m" x="650.2" y="995.0" color="#48c16e"/><use href="#m" x="835.3" y="1012.9" color="#48c16e"/><use href="#m" x="799.6" y="1155.6" color="#48c16e"/><use href="#m" x="803.7" y="1185.2" color="#48c16e"/><use href="#m" x="733.6" y="1230.1" color="#48c16e"/><use href="#m" x="760.4" y="1286.1" color="#48c16e"/><use href="#m" x="808.9" y="1343.4" color="#48c16e"/><use href="#m" x="907.7" y="610.8" color="#48c16e"/><use href="#m" x="978.5" y="671.1" color="#48c16e"/><use href="#m" x="978.7" y="671.3" color="#48c16e"/><use href="#m" x="993.3" y="705.6" color="#48c16e"/><use href="#m" x="1040.7" y="725.6" color="#48c16e"/><use href="#m" x="926.7" y="743.0" color="#48c16e"/><use href="#m" x="926.8" y="743.1" color="#48c16e"/><use href="#m" x="1039.0" y="768.6" color="#48c16e"/><use href="#m" x="1026.7" y="816.0" color="#48c16e"/><use href="#m" x="982.5" y="894.5" color="#48c16e"/><use href="#m" x="982.7" y="894.7" color="#48c16e"/><use href="#m" x="1006.2" y="943.0" color="#48c16e"/><use href="#m" x="971.9" y="948.9" color="#48c16e"/><use href="#m" x="1158.5" y="1015.6" color="#48c16e"/><use href="#m" x="1063.9" y="1070.1" color="#48c16e"/><use href="#m" x="1218.8" y="477.5" color="#48c16e"/><use href="#m" x="1219.0" y="477.6" color="#48c16e"/><use href="#m" x="1409.3" y="501.3" color="#48c16e"/><use href="#m" x="1220.7" y="522.2" color="#48c16e"/><use href="#m" x="1380.0" y="539.0" color="#48c16e"/><use href="#m" x="1242.2" y="558.5" color="#48c16e"/><use href="#m" x="1215.1" y="577.3" color="#48c16e"/><use href="#m" x="1297.8" y="837.3" color="#48c16e"/><use href="#m" x="1357.0" y="973.3" color="#48c16e"/><use href="#m" x="1294.8" y="990.4" color="#48c16e"/><use href="#m" x="1372.6" y="1015.6" color="#48c16e"/><use href="#m" x="1217.0" y="1131.1" color="#48c16e"/><use href="#m" x="1536.3" y="665.9" color="#48c16e"/><use href="#m" x="1541.2" y="681.9" color="#48c16e"/><use href="#m" x="254.4" y="480.7" color="#7fd34e"/><use href="#m" x="254.5" y="480.9" color="#7fd34e"/><use href="#m" x="527.4" y="319.3" color="#7fd34e"/><use href="#m" x="619.7" y="318.5" color="#7fd34e"/><use href="#m" x="527.4" y="323.0" color="#7fd34e"/><use href="#m" x="531.1" y="333.3" color="#7fd34e"/><use href="#m" x="614.8" y="388.1" color="#7fd34e"/><use href="#m" x="618.5" y="389.6" color="#7fd34e"/><use href="#m" x="475.6" y="387.4" color="#7fd34e"/><use href="#m" x="418.5" y="411.4" color="#7fd34e"/><use href="#m" x="418.7" y="411.6" color="#7fd34e"/><use href="#m" x="380.0" y="490.8" color="#7fd34e"/><use href="#m" x="456.6" y="495.3" color="#7fd34e"/><use href="#m" x="588.6" y="514.1" color="#7fd34e"/><use href="#m" x="552.1" y="519.0" color="#7fd34e"/><use href="#m" x="564.0" y="520.7" color="#7fd34e"/><use href="#m" x="590.4" y="553.8" color="#7fd34e"/><use href="#m" x="616.3" y="550.4" color="#7fd34e"/><use href="#m" x="620.0" y="567.4" color="#7fd34e"/><use href="#m" x="475.3" y="582.1" color="#7fd34e"/><use href="#m" x="543.0" y="587.1" color="#7fd34e"/><use href="#m" x="543.1" y="587.3" color="#7fd34e"/><use href="#m" x="592.9" y="596.0" color="#7fd34e"/><use href="#m" x="502.2" y="604.9" color="#7fd34e"/><use href="#m" x="502.4" y="605.0" color="#7fd34e"/><use href="#m" x="576.6" y="613.3" color="#7fd34e"/><use href="#m" x="593.3" y="619.6" color="#7fd34e"/><use href="#m" x="392.1" y="628.9" color="#7fd34e"/><use href="#m" x="460.7" y="630.1" color="#7fd34e"/><use href="#m" x="604.7" y="636.7" color="#7fd34e"/><use href="#m" x="346.7" y="642.2" color="#7fd34e"/><use href="#m" x="481.5" y="652.6" color="#7fd34e"/><use href="#m" x="580.0" y="650.4" color="#7fd34e"/><use href="#m" x="595.3" y="647.4" color="#7fd34e"/><use href="#m" x="543.3" y="663.0" color="#7fd34e"/><use href="#m" x="589.2" y="668.6" color="#7fd34e"/><use href="#m" x="443.3" y="676.3" color="#7fd34e"/><use href="#m" x="605.9" y="691.4" color="#7fd34e"/><use href="#m" x="461.8" y="708.1" color="#7fd34e"/><use href="#m" x="412.6" y="715.3" color="#7fd34e"/><use href="#m" x="394.5" y="721.2" color="#7fd34e"/><use href="#m" x="508.6" y="734.1" color="#7fd34e"/><use href="#m" x="608.1" y="748.4" color="#7fd34e"/><use href="#m" x="500.7" y="765.9" color="#7fd34e"/><use href="#m" x="361.3" y="785.3" color="#7fd34e"/><use href="#m" x="423.4" y="788.1" color="#7fd34e"/><use href="#m" x="549.3" y="807.7" color="#7fd34e"/><use href="#m" x="395.6" y="808.4" color="#7fd34e"/><use href="#m" x="411.6" y="820.3" color="#7fd34e"/><use href="#m" x="418.1" y="823.7" color="#7fd34e"/><use href="#m" x="413.6" y="872.1" color="#7fd34e"/><use href="#m" x="619.7" y="898.5" color="#7fd34e"/><use href="#m" x="479.3" y="914.1" color="#7fd34e"/><use href="#m" x="525.2" y="919.7" color="#7fd34e"/><use href="#m" x="612.7" y="950.1" color="#7fd34e"/><use href="#m" x="505.0" y="967.9" color="#7fd34e"/><use href="#m" x="356.0" y="1032.6" color="#7fd34e"/><use href="#m" x="484.0" y="1014.8" color="#7fd34e"/><use href="#m" x="519.6" y="1003.0" color="#7fd34e"/><use href="#m" x="589.6" y="1058.1" color="#7fd34e"/><use href="#m" x="493.3" y="1064.7" color="#7fd34e"/><use href="#m" x="539.0" y="1073.8" color="#7fd34e"/><use href="#m" x="569.5" y="1068.3" color="#7fd34e"/><use href="#m" x="574.1" y="1076.3" color="#7fd34e"/><use href="#m" x="624.1" y="177.3" color="#7fd34e"/><use href="#m" x="761.9" y="153.6" color="#7fd34e"/><use href="#m" x="681.5" y="245.5" color="#7fd34e"/><use href="#m" x="766.7" y="255.1" color="#7fd34e"/><use href="#m" x="763.3" y="346.4" color="#7fd34e"/><use href="#m" x="836.6" y="357.0" color="#7fd34e"/><use href="#m" x="673.6" y="389.6" color="#7fd34e"/><use href="#m" x="894.8" y="396.0" color="#7fd34e"/><use href="#m" x="895.0" y="396.1" color="#7fd34e"/><use href="#m" x="803.3" y="448.4" color="#7fd34e"/><use href="#m" x="843.7" y="449.3" color="#7fd34e"/><use href="#m" x="757.0" y="463.0" color="#7fd34e"/><use href="#m" x="826.4" y="475.6" color="#7fd34e"/><use href="#m" x="844.4" y="485.9" color="#7fd34e"/><use href="#m" x="748.9" y="490.4" color="#7fd34e"/><use href="#m" x="784.0" y="488.6" color="#7fd34e"/><use href="#m" x="832.1" y="497.8" color="#7fd34e"/><use href="#m" x="871.4" y="524.7" color="#7fd34e"/><use href="#m" x="828.6" y="534.1" color="#7fd34e"/><use href="#m" x="745.2" y="533.3" color="#7fd34e"/><use href="#m" x="775.9" y="562.7" color="#7fd34e"/><use href="#m" x="637.8" y="570.4" color="#7fd34e"/><use href="#m" x="641.2" y="571.1" color="#7fd34e"/><use href="#m" x="839.7" y="582.5" color="#7fd34e"/><use href="#m" x="673.0" y="586.7" color="#7fd34e"/><use href="#m" x="628.4" y="581.9" color="#7fd34e"/><use href="#m" x="841.8" y="596.0" color="#7fd34e"/><use href="#m" x="844.9" y="597.0" color="#7fd34e"/><use href="#m" x="824.1" y="632.3" color="#7fd34e"/><use href="#m" x="824.3" y="632.4" color="#7fd34e"/><use href="#m" x="689.9" y="663.0" color="#7fd34e"/><use href="#m" x="795.6" y="685.9" color="#7fd34e"/><use href="#m" x="709.6" y="691.4" color="#7fd34e"/><use href="#m" x="638.1" y="696.7" color="#7fd34e"/><use href="#m" x="624.4" y="704.0" color="#7fd34e"/><use href="#m" x="774.1" y="706.7" color="#7fd34e"/><use href="#m" x="774.2" y="706.8" color="#7fd34e"/><use href="#m" x="796.3" y="712.1" color="#7fd34e"/><use href="#m" x="839.7" y="712.6" color="#7fd34e"/><use href="#m" x="810.1" y="723.0" color="#7fd34e"/><use href="#m" x="641.2" y="724.9" color="#7fd34e"/><use href="#m" x="808.6" y="735.0" color="#7fd34e"/><use href="#m" x="692.6" y="744.4" color="#7fd34e"/><use href="#m" x="788.9" y="751.6" color="#7fd34e"/><use href="#m" x="789.0" y="751.7" color="#7fd34e"/><use href="#m" x="719.0" y="757.0" color="#7fd34e"/><use href="#m" x="827.4" y="756.7" color="#7fd34e"/><use href="#m" x="749.3" y="796.6" color="#7fd34e"/><use href="#m" x="762.5" y="794.8" color="#7fd34e"/><use href="#m" x="758.8" y="806.7" color="#7fd34e"/><use href="#m" x="787.4" y="833.6" color="#7fd34e"/><use href="#m" x="661.5" y="858.2" color="#7fd34e"/><use href="#m" x="742.2" y="852.6" color="#7fd34e"/><use href="#m" x="728.9" y="891.6" color="#7fd34e"/><use href="#m" x="738.5" y="892.3" color="#7fd34e"/><use href="#m" x="622.2" y="898.5" color="#7fd34e"/><use href="#m" x="700.0" y="908.1" color="#7fd34e"/><use href="#m" x="657.0" y="940.4" color="#7fd34e"/><use href="#m" x="676.3" y="938.2" color="#7fd34e"/><use href="#m" x="709.3" y="941.0" color="#7fd34e"/><use href="#m" x="698.2" y="961.8" color="#7fd34e"/><use href="#m" x="728.1" y="960.0" color="#7fd34e"/><use href="#m" x="774.8" y="979.3" color="#7fd34e"/><use href="#m" x="880.7" y="987.4" color="#7fd34e"/><use href="#m" x="794.8" y="993.6" color="#7fd34e"/><use href="#m" x="795.0" y="993.8" color="#7fd34e"/><use href="#m" x="697.0" y="1014.1" color="#7fd34e"/><use href="#m" x="697.2" y="1014.2" color="#7fd34e"/><use href="#m" x="706.4" y="1014.4" color="#7fd34e"/><use href="#m" x="876.7" y="1017.8" color="#7fd34e"/><use href="#m" x="763.0" y="1031.1" color="#7fd34e"/><use href="#m" x="653.0" y="1058.5" color="#7fd34e"/><use href="#m" x="891.1" y="1077.0" color="#7fd34e"/><use href="#m" x="898.5" y="1077.8" color="#7fd34e"/><use href="#m" x="854.1" y="1103.3" color="#7fd34e"/><use href="#m" x="877.8" y="1103.7" color="#7fd34e"/><use href="#m" x="790.4" y="1130.4" color="#7fd34e"/><use href="#m" x="779.7" y="1174.5" color="#7fd34e"/><use href="#m" x="784.9" y="1220.0" color="#7fd34e"/><use href="#m" x="638.5" y="1215.9" color="#7fd34e"/><use href="#m" x="1003.7" y="131.1" color="#7fd34e"/><use href="#m" x="1105.2" y="243.0" color="#7fd34e"/><use href="#m" x="1020.4" y="335.6" color="#7fd34e"/><use href="#m" x="909.6" y="442.7" color="#7fd34e"/><use href="#m" x="913.3" y="447.1" color="#7fd34e"/><use href="#m" x="994.8" y="471.1" color="#7fd34e"/><use href="#m" x="1020.7" y="476.7" color="#7fd34e"/><use href="#m" x="1020.9" y="476.9" color="#7fd34e"/><use href="#m" x="948.9" y="493.8" color="#7fd34e"/><use href="#m" x="949.0" y="493.9" color="#7fd34e"/><use href="#m" x="1027.7" y="591.1" color="#7fd34e"/><use href="#m" x="1109.2" y="612.6" color="#7fd34e"/><use href="#m" x="978.5" y="640.3" color="#7fd34e"/><use href="#m" x="905.6" y="643.7" color="#7fd34e"/><use href="#m" x="1027.9" y="641.0" color="#7fd34e"/><use href="#m" x="1105.9" y="664.4" color="#7fd34e"/><use href="#m" x="993.5" y="705.8" color="#7fd34e"/><use href="#m" x="1040.9" y="725.8" color="#7fd34e"/><use href="#m" x="1106.7" y="726.7" color="#7fd34e"/><use href="#m" x="1038.8" y="768.4" color="#7fd34e"/><use href="#m" x="961.2" y="805.6" color="#7fd34e"/><use href="#m" x="967.4" y="821.0" color="#7fd34e"/><use href="#m" x="1171.4" y="863.0" color="#7fd34e"/><use href="#m" x="956.3" y="872.6" color="#7fd34e"/><use href="#m" x="1056.3" y="872.9" color="#7fd34e"/><use href="#m" x="1048.9" y="887.1" color="#7fd34e"/><use href="#m" x="1135.6" y="937.0" color="#7fd34e"/><use href="#m" x="1150.4" y="934.4" color="#7fd34e"/><use href="#m" x="1077.3" y="943.3" color="#7fd34e"/><use href="#m" x="1091.1" y="949.3" color="#7fd34e"/><use href="#m" x="939.7" y="948.4" color="#7fd34e"/><use href="#m" x="955.7" y="986.1" color="#7fd34e"/><use href="#m" x="1034.1" y="991.6" color="#7fd34e"/><use href="#m" x="1040.7" y="989.6" color="#7fd34e"/><use href="#m" x="1024.0" y="996.3" color="#7fd34e"/><use href="#m" x="923.0" y="1033.6" color="#7fd34e"/><use href="#m" x="912.6" y="1080.7" color="#7fd34e"/><use href="#m" x="900.7" y="1077.8" color="#7fd34e"/><use href="#m" x="1191.6" y="485.9" color="#7fd34e"/><use href="#m" x="1410.1" y="501.0" color="#7fd34e"/><use href="#m" x="1210.7" y="519.0" color="#7fd34e"/><use href="#m" x="1224.4" y="526.7" color="#7fd34e"/><use href="#m" x="1377.8" y="516.3" color="#7fd34e"/><use href="#m" x="1389.2" y="517.8" color="#7fd34e"/><use href="#m" x="1365.9" y="537.0" color="#7fd34e"/><use href="#m" x="1338.8" y="539.3" color="#7fd34e"/><use href="#m" x="1339.3" y="553.0" color="#7fd34e"/><use href="#m" x="1331.1" y="567.7" color="#7fd34e"/><use href="#m" x="1182.2" y="637.8" color="#7fd34e"/><use href="#m" x="1191.9" y="656.0" color="#7fd34e"/><use href="#m" x="1234.8" y="692.6" color="#7fd34e"/><use href="#m" x="1246.2" y="764.7" color="#7fd34e"/><use href="#m" x="1279.3" y="784.7" color="#7fd34e"/><use href="#m" x="1372.7" y="802.1" color="#7fd34e"/><use href="#m" x="1318.8" y="840.0" color="#7fd34e"/><use href="#m" x="1320.0" y="850.4" color="#7fd34e"/><use href="#m" x="1321.5" y="879.3" color="#7fd34e"/><use href="#m" x="1188.1" y="882.2" color="#7fd34e"/><use href="#m" x="1194.1" y="883.7" color="#7fd34e"/><use href="#m" x="1189.9" y="910.7" color="#7fd34e"/><use href="#m" x="1307.9" y="899.3" color="#7fd34e"/><use href="#m" x="1311.9" y="905.6" color="#7fd34e"/><use href="#m" x="1267.0" y="937.0" color="#7fd34e"/><use href="#m" x="1267.4" y="942.2" color="#7fd34e"/><use href="#m" x="1259.0" y="947.9" color="#7fd34e"/><use href="#m" x="1301.2" y="960.7" color="#7fd34e"/><use href="#m" x="1295.6" y="988.9" color="#7fd34e"/><use href="#m" x="1385.2" y="1006.7" color="#7fd34e"/><use href="#m" x="1215.1" y="1127.7" color="#7fd34e"/><use href="#m" x="1525.6" y="656.7" color="#89d548"/><use href="#m" x="1535.6" y="661.9" color="#89d548"/><use href="#m" x="1523.7" y="663.7" color="#89d548"/><use href="#m" x="1522.2" y="668.1" color="#89d548"/><use href="#m" x="1530.4" y="669.6" color="#89d548"/><use href="#m" x="1543.7" y="671.9" color="#89d548"/><use href="#m" x="1511.1" y="672.3" color="#89d548"/><use href="#m" x="1515.3" y="675.6" color="#89d548"/><use href="#m" x="1544.4" y="674.8" color="#89d548"/><use href="#m" x="1537.0" y="678.5" color="#89d548"/><use href="#m" x="1523.7" y="680.7" color="#89d548"/><use href="#m" x="1535.6" y="690.8" color="#89d548"/><use href="#m" x="1519.3" y="691.4" color="#89d548"/><use href="#m" x="1525.2" y="694.8" color="#89d548"/><use href="#m" x="1538.5" y="700.7" color="#89d548"/><use href="#m" x="1547.0" y="700.0" color="#89d548"/><use href="#m" x="1534.8" y="708.1" color="#89d548"/><use href="#m" x="1532.6" y="712.6" color="#89d548"/><use href="#m" x="1568.4" y="638.2" color="#89d548"/><use href="#m" x="1574.4" y="638.2" color="#89d548"/><use href="#m" x="1591.1" y="641.9" color="#89d548"/><use href="#m" x="1571.9" y="647.4" color="#89d548"/><use href="#m" x="1584.4" y="650.8" color="#89d548"/><use href="#m" x="1600.0" y="650.4" color="#89d548"/><use href="#m" x="1565.2" y="655.6" color="#89d548"/><use href="#m" x="1577.0" y="654.8" color="#89d548"/><use href="#m" x="1585.6" y="659.0" color="#89d548"/><use href="#m" x="1560.0" y="660.4" color="#89d548"/><use href="#m" x="1572.1" y="661.2" color="#89d548"/><use href="#m" x="1580.7" y="667.7" color="#89d548"/><use href="#m" x="1590.4" y="666.7" color="#89d548"/><use href="#m" x="1597.0" y="669.6" color="#89d548"/><use href="#m" x="1563.0" y="678.5" color="#89d548"/><use href="#m" x="1578.1" y="680.0" color="#89d548"/><use href="#m" x="1569.3" y="684.9" color="#89d548"/><use href="#m" x="270.4" y="500.3" color="#b5de2b"/><use href="#m" x="255.6" y="534.8" color="#b5de2b"/><use href="#m" x="312.3" y="715.6" color="#b5de2b"/><use href="#m" x="225.6" y="734.1" color="#b5de2b"/><use href="#m" x="381.2" y="257.8" color="#b5de2b"/><use href="#m" x="371.1" y="308.6" color="#b5de2b"/><use href="#m" x="495.3" y="283.0" color="#b5de2b"/><use href="#m" x="558.1" y="428.1" color="#b5de2b"/><use href="#m" x="477.0" y="431.9" color="#b5de2b"/><use href="#m" x="477.2" y="432.0" color="#b5de2b"/><use href="#m" x="457.8" y="518.1" color="#b5de2b"/><use href="#m" x="523.3" y="529.2" color="#b5de2b"/><use href="#m" x="546.4" y="559.7" color="#b5de2b"/><use href="#m" x="616.4" y="550.5" color="#b5de2b"/><use href="#m" x="350.7" y="573.0" color="#b5de2b"/><use href="#m" x="447.9" y="594.5" color="#b5de2b"/><use href="#m" x="448.0" y="594.7" color="#b5de2b"/><use href="#m" x="486.4" y="637.8" color="#b5de2b"/><use href="#m" x="520.3" y="644.9" color="#b5de2b"/><use href="#m" x="556.6" y="654.5" color="#b5de2b"/><use href="#m" x="494.5" y="690.7" color="#b5de2b"/><use href="#m" x="606.1" y="691.6" color="#b5de2b"/><use href="#m" x="582.5" y="714.4" color="#b5de2b"/><use href="#m" x="595.1" y="724.7" color="#b5de2b"/><use href="#m" x="346.7" y="732.1" color="#b5de2b"/><use href="#m" x="583.7" y="759.3" color="#b5de2b"/><use href="#m" x="428.9" y="767.7" color="#b5de2b"/><use href="#m" x="507.9" y="763.0" color="#b5de2b"/><use href="#m" x="383.0" y="771.9" color="#b5de2b"/><use href="#m" x="383.1" y="772.0" color="#b5de2b"/><use href="#m" x="361.2" y="785.2" color="#b5de2b"/><use href="#m" x="463.3" y="796.0" color="#b5de2b"/><use href="#m" x="539.3" y="791.4" color="#b5de2b"/><use href="#m" x="401.2" y="804.4" color="#b5de2b"/><use href="#m" x="401.3" y="804.6" color="#b5de2b"/><use href="#m" x="351.1" y="812.1" color="#b5de2b"/><use href="#m" x="541.2" y="830.7" color="#b5de2b"/><use href="#m" x="585.6" y="840.4" color="#b5de2b"/><use href="#m" x="405.2" y="874.4" color="#b5de2b"/><use href="#m" x="602.4" y="882.1" color="#b5de2b"/><use href="#m" x="482.7" y="918.5" color="#b5de2b"/><use href="#m" x="577.5" y="945.2" color="#b5de2b"/><use href="#m" x="594.4" y="954.1" color="#b5de2b"/><use href="#m" x="586.4" y="963.3" color="#b5de2b"/><use href="#m" x="467.0" y="1007.4" color="#b5de2b"/><use href="#m" x="519.7" y="1003.1" color="#b5de2b"/><use href="#m" x="555.6" y="1013.3" color="#b5de2b"/><use href="#m" x="535.9" y="1077.0" color="#b5de2b"/><use href="#m" x="569.3" y="1068.1" color="#b5de2b"/><use href="#m" x="495.1" y="1120.0" color="#b5de2b"/><use href="#m" x="530.7" y="1218.5" color="#b5de2b"/><use href="#m" x="619.3" y="1323.0" color="#b5de2b"/><use href="#m" x="671.1" y="246.7" color="#b5de2b"/><use href="#m" x="837.0" y="366.2" color="#b5de2b"/><use href="#m" x="887.1" y="356.0" color="#b5de2b"/><use href="#m" x="768.6" y="425.5" color="#b5de2b"/><use href="#m" x="768.7" y="425.6" color="#b5de2b"/><use href="#m" x="867.7" y="419.0" color="#b5de2b"/><use href="#m" x="900.0" y="416.3" color="#b5de2b"/><use href="#m" x="748.4" y="498.2" color="#b5de2b"/><use href="#m" x="839.0" y="506.7" color="#b5de2b"/><use href="#m" x="839.1" y="506.8" color="#b5de2b"/><use href="#m" x="845.9" y="505.9" color="#b5de2b"/><use href="#m" x="755.1" y="519.7" color="#b5de2b"/><use href="#m" x="798.5" y="528.9" color="#b5de2b"/><use href="#m" x="626.7" y="534.1" color="#b5de2b"/><use href="#m" x="657.0" y="530.4" color="#b5de2b"/><use href="#m" x="634.8" y="538.5" color="#b5de2b"/><use href="#m" x="647.1" y="555.7" color="#b5de2b"/><use href="#m" x="702.2" y="562.2" color="#b5de2b"/><use href="#m" x="740.4" y="591.6" color="#b5de2b"/><use href="#m" x="767.4" y="587.1" color="#b5de2b"/><use href="#m" x="715.1" y="585.9" color="#b5de2b"/><use href="#m" x="649.6" y="584.0" color="#b5de2b"/><use href="#m" x="826.4" y="596.3" color="#b5de2b"/><use href="#m" x="721.5" y="603.7" color="#b5de2b"/><use href="#m" x="789.2" y="613.6" color="#b5de2b"/><use href="#m" x="812.1" y="624.4" color="#b5de2b"/><use href="#m" x="869.6" y="644.1" color="#b5de2b"/><use href="#m" x="803.0" y="650.1" color="#b5de2b"/><use href="#m" x="707.1" y="655.6" color="#b5de2b"/><use href="#m" x="740.7" y="664.1" color="#b5de2b"/><use href="#m" x="644.7" y="673.6" color="#b5de2b"/><use href="#m" x="715.6" y="719.3" color="#b5de2b"/><use href="#m" x="787.4" y="721.9" color="#b5de2b"/><use href="#m" x="835.6" y="731.1" color="#b5de2b"/><use href="#m" x="626.7" y="741.0" color="#b5de2b"/><use href="#m" x="693.3" y="740.0" color="#b5de2b"/><use href="#m" x="632.6" y="760.0" color="#b5de2b"/><use href="#m" x="681.5" y="772.3" color="#b5de2b"/><use href="#m" x="656.0" y="787.9" color="#b5de2b"/><use href="#m" x="768.9" y="785.2" color="#b5de2b"/><use href="#m" x="838.1" y="774.1" color="#b5de2b"/><use href="#m" x="891.1" y="796.0" color="#b5de2b"/><use href="#m" x="777.0" y="799.0" color="#b5de2b"/><use href="#m" x="728.9" y="803.3" color="#b5de2b"/><use href="#m" x="854.1" y="803.7" color="#b5de2b"/><use href="#m" x="832.9" y="855.3" color="#b5de2b"/><use href="#m" x="826.4" y="863.7" color="#b5de2b"/><use href="#m" x="738.7" y="892.4" color="#b5de2b"/><use href="#m" x="819.0" y="913.6" color="#b5de2b"/><use href="#m" x="713.3" y="909.2" color="#b5de2b"/><use href="#m" x="791.1" y="930.8" color="#b5de2b"/><use href="#m" x="791.3" y="931.0" color="#b5de2b"/><use href="#m" x="740.4" y="930.8" color="#b5de2b"/><use href="#m" x="667.4" y="942.5" color="#b5de2b"/><use href="#m" x="825.2" y="954.4" color="#b5de2b"/><use href="#m" x="782.2" y="973.8" color="#b5de2b"/><use href="#m" x="880.9" y="987.6" color="#b5de2b"/><use href="#m" x="799.0" y="1008.1" color="#b5de2b"/><use href="#m" x="754.4" y="1012.3" color="#b5de2b"/><use href="#m" x="783.7" y="1177.0" color="#b5de2b"/><use href="#m" x="788.9" y="1179.3" color="#b5de2b"/><use href="#m" x="774.1" y="1199.3" color="#b5de2b"/><use href="#m" x="785.9" y="1217.5" color="#b5de2b"/><use href="#m" x="1113.6" y="254.1" color="#b5de2b"/><use href="#m" x="911.6" y="394.8" color="#b5de2b"/><use href="#m" x="1140.4" y="395.3" color="#b5de2b"/><use href="#m" x="903.3" y="416.3" color="#b5de2b"/><use href="#m" x="1040.0" y="475.3" color="#b5de2b"/><use href="#m" x="1180.0" y="537.0" color="#b5de2b"/><use href="#m" x="985.6" y="623.7" color="#b5de2b"/><use href="#m" x="1113.0" y="678.8" color="#b5de2b"/><use href="#m" x="975.3" y="678.5" color="#b5de2b"/><use href="#m" x="934.4" y="760.0" color="#b5de2b"/><use href="#m" x="952.3" y="823.7" color="#b5de2b"/><use href="#m" x="952.4" y="823.9" color="#b5de2b"/><use href="#m" x="984.0" y="840.0" color="#b5de2b"/><use href="#m" x="956.3" y="853.6" color="#b5de2b"/><use href="#m" x="912.3" y="897.8" color="#b5de2b"/><use href="#m" x="945.9" y="920.0" color="#b5de2b"/><use href="#m" x="903.0" y="924.7" color="#b5de2b"/><use href="#m" x="1083.0" y="956.3" color="#b5de2b"/><use href="#m" x="930.4" y="947.0" color="#b5de2b"/><use href="#m" x="953.3" y="955.6" color="#b5de2b"/><use href="#m" x="1087.7" y="971.6" color="#b5de2b"/><use href="#m" x="1076.3" y="977.0" color="#b5de2b"/><use href="#m" x="1080.0" y="978.5" color="#b5de2b"/><use href="#m" x="955.6" y="985.9" color="#b5de2b"/><use href="#m" x="1004.0" y="1023.0" color="#b5de2b"/><use href="#m" x="1004.1" y="1023.1" color="#b5de2b"/><use href="#m" x="1112.6" y="1045.2" color="#b5de2b"/><use href="#m" x="930.1" y="1104.4" color="#b5de2b"/><use href="#m" x="909.6" y="1114.5" color="#b5de2b"/><use href="#m" x="1279.6" y="348.9" color="#b5de2b"/><use href="#m" x="1393.8" y="488.1" color="#b5de2b"/><use href="#m" x="1393.9" y="488.3" color="#b5de2b"/><use href="#m" x="1383.0" y="530.4" color="#b5de2b"/><use href="#m" x="1383.1" y="530.5" color="#b5de2b"/><use href="#m" x="1230.4" y="549.2" color="#b5de2b"/><use href="#m" x="1243.7" y="562.2" color="#b5de2b"/><use href="#m" x="1348.1" y="546.7" color="#b5de2b"/><use href="#m" x="1393.8" y="618.8" color="#b5de2b"/><use href="#m" x="1393.9" y="619.0" color="#b5de2b"/><use href="#m" x="1181.5" y="657.8" color="#b5de2b"/><use href="#m" x="1245.6" y="659.7" color="#b5de2b"/><use href="#m" x="1454.1" y="667.7" color="#b5de2b"/><use href="#m" x="1247.4" y="690.4" color="#b5de2b"/><use href="#m" x="1256.3" y="692.3" color="#b5de2b"/><use href="#m" x="1256.4" y="692.4" color="#b5de2b"/><use href="#m" x="1246.4" y="764.9" color="#b5de2b"/><use href="#m" x="1291.1" y="776.3" color="#b5de2b"/><use href="#m" x="1289.6" y="786.2" color="#b5de2b"/><use href="#m" x="1289.2" y="801.0" color="#b5de2b"/><use href="#m" x="1372.6" y="801.9" color="#b5de2b"/><use href="#m" x="1344.1" y="835.1" color="#b5de2b"/><use href="#m" x="1322.5" y="861.0" color="#b5de2b"/><use href="#m" x="1328.1" y="861.5" color="#b5de2b"/><use href="#m" x="1311.6" y="874.5" color="#b5de2b"/><use href="#m" x="1308.1" y="883.0" color="#b5de2b"/><use href="#m" x="1339.6" y="887.7" color="#b5de2b"/><use href="#m" x="1295.6" y="895.6" color="#b5de2b"/><use href="#m" x="1253.3" y="923.4" color="#b5de2b"/><use href="#m" x="1258.1" y="925.9" color="#b5de2b"/><use href="#m" x="1346.7" y="965.9" color="#b5de2b"/><use href="#m" x="1294.1" y="961.5" color="#b5de2b"/><use href="#m" x="1351.1" y="978.5" color="#b5de2b"/><use href="#m" x="1385.3" y="1007.4" color="#b5de2b"/><use href="#m" x="1244.7" y="1090.1" color="#b5de2b"/><use href="#m" x="1217.8" y="1122.2" color="#b5de2b"/><use href="#m" x="1220.7" y="1123.0" color="#b5de2b"/><use href="#m" x="1513.3" y="684.4" color="#c8e020"/><use href="#m" x="1528.1" y="685.2" color="#c8e020"/><use href="#m" x="1583.7" y="641.2" color="#c8e020"/><use href="#m" x="1590.4" y="648.1" color="#c8e020"/><use href="#m" x="1598.8" y="656.7" color="#c8e020"/><use href="#m" x="1602.2" y="664.4" color="#c8e020"/><use href="#m" x="1584.9" y="676.3" color="#c8e020"/><use href="#m" x="327.4" y="925.9" color="#d8e219"/><use href="#m" x="465.2" y="266.7" color="#d8e219"/><use href="#m" x="597.5" y="367.1" color="#d8e219"/><use href="#m" x="609.6" y="381.0" color="#d8e219"/><use href="#m" x="523.4" y="529.3" color="#d8e219"/><use href="#m" x="415.9" y="579.3" color="#d8e219"/><use href="#m" x="478.5" y="642.5" color="#d8e219"/><use href="#m" x="468.6" y="740.9" color="#d8e219"/><use href="#m" x="401.8" y="910.2" color="#d8e219"/><use href="#m" x="781.5" y="244.4" color="#d8e219"/><use href="#m" x="689.3" y="417.5" color="#d8e219"/><use href="#m" x="633.9" y="435.0" color="#d8e219"/><use href="#m" x="765.2" y="465.2" color="#d8e219"/><use href="#m" x="635.6" y="468.6" color="#d8e219"/><use href="#m" x="891.3" y="796.1" color="#d8e219"/><use href="#m" x="783.7" y="977.8" color="#d8e219"/><use href="#m" x="774.1" y="1041.9" color="#d8e219"/><use href="#m" x="897.8" y="1117.8" color="#d8e219"/><use href="#m" x="804.7" y="1345.5" color="#d8e219"/><use href="#m" x="1004.0" y="130.7" color="#d8e219"/><use href="#m" x="956.3" y="389.3" color="#d8e219"/><use href="#m" x="1053.8" y="454.5" color="#d8e219"/><use href="#m" x="1128.1" y="603.3" color="#d8e219"/><use href="#m" x="1023.1" y="656.0" color="#d8e219"/><use href="#m" x="915.6" y="713.3" color="#d8e219"/><use href="#m" x="1158.8" y="1006.4" color="#d8e219"/><use href="#m" x="1112.7" y="1045.3" color="#d8e219"/><use href="#m" x="935.6" y="1090.1" color="#d8e219"/><use href="#m" x="1183.7" y="537.0" color="#d8e219"/><use href="#m" x="1455.6" y="669.6" color="#d8e219"/><use href="#m" x="1246.7" y="847.1" color="#d8e219"/><use href="#m" x="1315.6" y="867.0" color="#d8e219"/><use href="#m" x="1312.6" y="885.2" color="#d8e219"/><use href="#m" x="1339.7" y="887.9" color="#d8e219"/><use href="#m" x="1211.9" y="894.1" color="#d8e219"/><use href="#m" x="1237.8" y="1091.9" color="#d8e219"/><use href="#m" x="1562.2" y="668.1" color="#d8e219"/><use href="#m" x="1570.4" y="672.9" color="#d8e219"/><use href="#m" x="261.2" y="520.4" color="#eae51a"/><use href="#m" x="172.3" y="651.4" color="#eae51a"/><use href="#m" x="172.4" y="651.6" color="#eae51a"/><use href="#m" x="329.3" y="662.2" color="#eae51a"/><use href="#m" x="337.8" y="719.7" color="#eae51a"/><use href="#m" x="236.3" y="732.3" color="#eae51a"/><use href="#m" x="568.9" y="195.0" color="#eae51a"/><use href="#m" x="528.9" y="276.3" color="#eae51a"/><use href="#m" x="597.3" y="367.0" color="#eae51a"/><use href="#m" x="384.0" y="498.2" color="#eae51a"/><use href="#m" x="384.1" y="498.4" color="#eae51a"/><use href="#m" x="497.0" y="513.8" color="#eae51a"/><use href="#m" x="553.6" y="524.7" color="#eae51a"/><use href="#m" x="487.4" y="551.6" color="#eae51a"/><use href="#m" x="402.2" y="588.9" color="#eae51a"/><use href="#m" x="599.3" y="604.0" color="#eae51a"/><use href="#m" x="371.9" y="616.7" color="#eae51a"/><use href="#m" x="529.6" y="617.0" color="#eae51a"/><use href="#m" x="589.3" y="632.9" color="#eae51a"/><use href="#m" x="488.1" y="651.1" color="#eae51a"/><use href="#m" x="418.5" y="742.2" color="#eae51a"/><use href="#m" x="468.4" y="740.7" color="#eae51a"/><use href="#m" x="456.0" y="748.1" color="#eae51a"/><use href="#m" x="413.8" y="792.1" color="#eae51a"/><use href="#m" x="532.1" y="798.8" color="#eae51a"/><use href="#m" x="378.1" y="869.6" color="#eae51a"/><use href="#m" x="378.2" y="869.8" color="#eae51a"/><use href="#m" x="602.7" y="864.7" color="#eae51a"/><use href="#m" x="568.9" y="876.7" color="#eae51a"/><use href="#m" x="421.9" y="890.1" color="#eae51a"/><use href="#m" x="422.5" y="896.3" color="#eae51a"/><use href="#m" x="560.7" y="895.1" color="#eae51a"/><use href="#m" x="401.9" y="910.2" color="#eae51a"/><use href="#m" x="416.6" y="941.0" color="#eae51a"/><use href="#m" x="541.5" y="1046.4" color="#eae51a"/><use href="#m" x="540.4" y="1052.6" color="#eae51a"/><use href="#m" x="709.6" y="243.1" color="#eae51a"/><use href="#m" x="846.2" y="308.1" color="#eae51a"/><use href="#m" x="795.3" y="385.6" color="#eae51a"/><use href="#m" x="753.6" y="416.6" color="#eae51a"/><use href="#m" x="753.8" y="416.7" color="#eae51a"/><use href="#m" x="677.5" y="433.6" color="#eae51a"/><use href="#m" x="633.8" y="434.8" color="#eae51a"/><use href="#m" x="650.4" y="491.1" color="#eae51a"/><use href="#m" x="651.1" y="507.4" color="#eae51a"/><use href="#m" x="879.0" y="513.0" color="#eae51a"/><use href="#m" x="830.1" y="524.7" color="#eae51a"/><use href="#m" x="851.1" y="532.6" color="#eae51a"/><use href="#m" x="626.7" y="556.7" color="#eae51a"/><use href="#m" x="647.0" y="555.6" color="#eae51a"/><use href="#m" x="787.4" y="553.3" color="#eae51a"/><use href="#m" x="707.4" y="615.1" color="#eae51a"/><use href="#m" x="824.1" y="694.1" color="#eae51a"/><use href="#m" x="798.2" y="700.3" color="#eae51a"/><use href="#m" x="807.4" y="753.3" color="#eae51a"/><use href="#m" x="810.4" y="759.3" color="#eae51a"/><use href="#m" x="744.0" y="779.3" color="#eae51a"/><use href="#m" x="768.1" y="816.7" color="#eae51a"/><use href="#m" x="704.4" y="821.2" color="#eae51a"/><use href="#m" x="704.6" y="821.3" color="#eae51a"/><use href="#m" x="825.6" y="827.1" color="#eae51a"/><use href="#m" x="899.3" y="855.6" color="#eae51a"/><use href="#m" x="830.4" y="954.8" color="#eae51a"/><use href="#m" x="644.7" y="1069.3" color="#eae51a"/><use href="#m" x="717.8" y="1089.2" color="#eae51a"/><use href="#m" x="720.4" y="1087.4" color="#eae51a"/><use href="#m" x="939.3" y="555.9" color="#eae51a"/><use href="#m" x="981.8" y="604.0" color="#eae51a"/><use href="#m" x="1115.3" y="617.8" color="#eae51a"/><use href="#m" x="1023.0" y="655.9" color="#eae51a"/><use href="#m" x="953.3" y="667.1" color="#eae51a"/><use href="#m" x="936.7" y="683.0" color="#eae51a"/><use href="#m" x="943.4" y="796.0" color="#eae51a"/><use href="#m" x="972.1" y="832.1" color="#eae51a"/><use href="#m" x="971.6" y="840.7" color="#eae51a"/><use href="#m" x="979.0" y="850.8" color="#eae51a"/><use href="#m" x="1162.7" y="847.4" color="#eae51a"/><use href="#m" x="916.3" y="875.3" color="#eae51a"/><use href="#m" x="916.3" y="905.9" color="#eae51a"/><use href="#m" x="1119.6" y="912.6" color="#eae51a"/><use href="#m" x="1131.6" y="941.5" color="#eae51a"/><use href="#m" x="1158.5" y="1015.1" color="#eae51a"/><use href="#m" x="1158.7" y="1015.3" color="#eae51a"/><use href="#m" x="1096.6" y="1030.8" color="#eae51a"/><use href="#m" x="1110.8" y="1079.0" color="#eae51a"/><use href="#m" x="1205.9" y="510.7" color="#eae51a"/><use href="#m" x="1240.4" y="547.7" color="#eae51a"/><use href="#m" x="1223.3" y="561.5" color="#eae51a"/><use href="#m" x="1331.4" y="559.3" color="#eae51a"/><use href="#m" x="1319.7" y="944.0" color="#eae51a"/><use href="#m" x="1222.5" y="1128.1" color="#eae51a"/></g>
<g font-size="16.67" fill-opacity=".8">
<text transform="translate(499.5,269.6) scale(.985,1.07)">ауп.</text><text transform="translate(471.3,317.0) scale(.985,1.07)">иҟоу</text><text transform="translate(466.0,385.4) scale(.985,1.07)">рыла</text><text transform="translate(706.2,217.8) scale(.985,1.07)">аҟны</text><text transform="translate(724.2,303.6) scale(.985,1.07)">аҿы</text><text transform="translate(691.2,313.5) scale(.985,1.07)">рҿы</text><text transform="translate(952.0,301.5) scale(.985,1.07)">рзы</text><text transform="translate(1053.0,342.0) scale(.985,1.07)">шықәса</text><text transform="translate(1027.4,351.2) scale(.985,1.07)">шықәсазы</text><text transform="translate(569.6,464.4) scale(.985,1.07)">убас</text><text transform="translate(606.2,472.3) scale(.985,1.07)">урҭ</text><text transform="translate(589.4,509.6) scale(.985,1.07)">зегьы</text><text transform="translate(762.9,536.6) scale(.985,1.07)">аха</text><text transform="translate(384.0,559.5) scale(.985,1.07)">иара</text><text transform="translate(382.6,564.6) scale(.985,1.07)">Иара</text><text transform="translate(689.0,603.6) scale(.985,1.07)">уи</text><text transform="translate(710.2,603.6) scale(.985,1.07)">ҳәа</text><text transform="translate(692.8,610.6) scale(.985,1.07)">уи</text><text transform="translate(718.4,631.4) scale(.985,1.07)">азы</text><text transform="translate(659.5,638.5) scale(.985,1.07)">ари</text><text transform="translate(666.0,699.7) scale(.985,1.07)">ду</text><text transform="translate(757.0,663.1) scale(.985,1.07)">–</text><text transform="translate(764.5,690.7) scale(.985,1.07)">-</text><text transform="translate(1091.5,698.2) scale(.985,1.07)">()</text><text transform="translate(1083.2,740.5) scale(.985,1.07)">,</text><text transform="translate(1166.5,712.4) scale(.985,1.07)">&lt;/s&gt;</text><text transform="translate(1168.6,724.1) scale(.985,1.07)">Азхьарԥшқәа</text><text transform="translate(1221.5,695.2) scale(.985,1.07)">ш.</text><text transform="translate(1222.5,748.9) scale(.985,1.07)">—</text><text transform="translate(1456.5,669.4) scale(.985,1.07)">амш</text><text transform="translate(1447.5,717.1) scale(.985,1.07)">ашықәс</text><text transform="translate(1506.5,716.9) scale(.985,1.07)">тәи</text><text transform="translate(1098.3,801.9) scale(.985,1.07)">ииз</text><text transform="translate(478.5,934.8) scale(.985,1.07)">аус</text><text transform="translate(1017.8,1131.8) scale(.985,1.07)">Аԥсны</text><text transform="translate(1529.4,765.3) scale(.985,1.07)">Иит</text><text transform="translate(1530.8,768.4) scale(.985,1.07)">иит</text><text transform="translate(1531.0,774.5) scale(.985,1.07)">рыԥтәи</text><text transform="translate(1581.5,771.3) scale(.985,1.07)">ажьырныҳәамза</text><text transform="translate(1575.6,776.7) scale(.985,1.07)">хәажәкырамза</text><text transform="translate(1546.0,768.5) scale(.985,1.07)">жәабранмза</text><text transform="translate(1560.0,772.4) scale(.985,1.07)">мшаԥымза</text><text transform="translate(1577.0,781.0) scale(.985,1.07)">ԥхынгәымза</text><text transform="translate(1573.0,782.6) scale(.985,1.07)">ԥхынҷкәынмза</text><text transform="translate(1580.0,785.6) scale(.985,1.07)">рашәарамза</text><text transform="translate(1583.5,786.6) scale(.985,1.07)">цәыббрамза</text><text transform="translate(1590.0,787.2) scale(.985,1.07)">нанҳәамза</text><text transform="translate(1587.0,791.3) scale(.985,1.07)">лаҵарамза</text><text transform="translate(1588.2,790.5) scale(.985,1.07)">абҵарамза</text><text transform="translate(1579.5,789.8) scale(.985,1.07)">жьҭаарамза</text></g>
<rect x="92.0" y="54.0" width="1582.0" height="1353.0" fill="none" stroke="#cccccc" stroke-width="2"/>
<rect x="1773.0" y="54.0" width="67.0" height="1353.0" fill="url(#vg)" fill-opacity=".6" stroke="#cccccc" stroke-width="2"/>
<g stroke="#262626" stroke-width="1.9"><line x1="1841.0" y1="1407.0" x2="1847.0" y2="1407.0"/><line x1="1841.0" y1="1238.0" x2="1847.0" y2="1238.0"/><line x1="1841.0" y1="1068.0" x2="1847.0" y2="1068.0"/><line x1="1841.0" y1="899.0" x2="1847.0" y2="899.0"/><line x1="1841.0" y1="730.0" x2="1847.0" y2="730.0"/><line x1="1841.0" y1="561.0" x2="1847.0" y2="561.0"/><line x1="1841.0" y1="392.0" x2="1847.0" y2="392.0"/><line x1="1841.0" y1="222.0" x2="1847.0" y2="222.0"/></g>
<g font-size="20.83">
<text x="1855" y="1414.7">0</text><text x="1855" y="1245.7">250</text><text x="1855" y="1075.7">500</text><text x="1855" y="906.7">750</text><text x="1855" y="737.7">1000</text><text x="1855" y="568.7">1250</text><text x="1855" y="399.7">1500</text><text x="1855" y="229.7">1750</text><text x="218.0" y="1438.9" text-anchor="middle">-60</text><text x="418.0" y="1438.9" text-anchor="middle">-40</text><text x="617.0" y="1438.9" text-anchor="middle">-20</text><text x="817.0" y="1438.9" text-anchor="middle">0</text><text x="1017.0" y="1438.9" text-anchor="middle">20</text><text x="1216.0" y="1438.9" text-anchor="middle">40</text><text x="1416.0" y="1438.9" text-anchor="middle">60</text><text x="1615.0" y="1438.9" text-anchor="middle">80</text><text x="77" y="1209.6" text-anchor="end">-40</text><text x="77" y="970.6" text-anchor="end">-20</text><text x="77" y="731.6" text-anchor="end">0</text><text x="77" y="492.6" text-anchor="end">20</text><text x="77" y="253.6" text-anchor="end">40</text></g>
<text x="883.1" y="1466" font-size="21.05" text-anchor="middle">t-SNE Dimension 1</text>
<text transform="translate(30.5,731.2) rotate(-90)" font-size="21.05" text-anchor="middle">t-SNE Dimension 2</text>
<text transform="translate(1930.8,730.4) rotate(-90)" font-size="21.05" text-anchor="middle">Word Rank (by frequency)</text>
<text x="882.9" y="41.3" font-size="33.36" font-weight="bold" text-anchor="middle">t-SNE Visualization of Word Embeddings (2000 words)</text>
</svg>
</body></html>
